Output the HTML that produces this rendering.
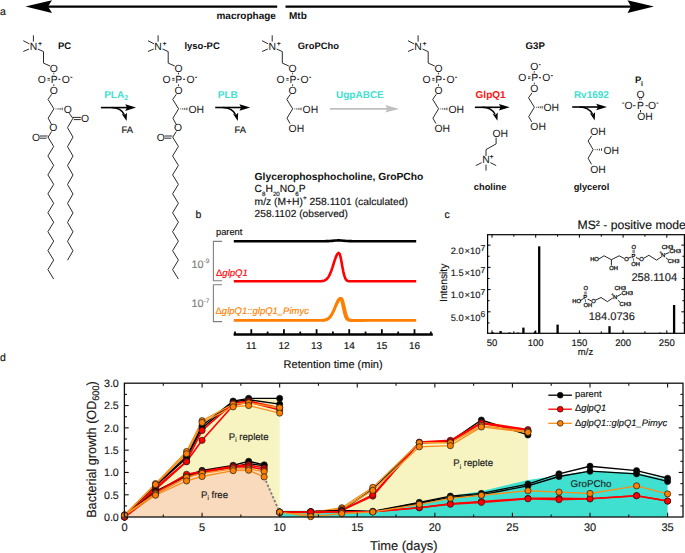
<!DOCTYPE html>
<html><head><meta charset="utf-8"><style>
html,body{margin:0;padding:0;background:#fff;}
body{width:685px;height:553px;overflow:hidden;}
svg{display:block;text-rendering:geometricPrecision;font-family:"Liberation Sans", sans-serif;}
</style></head><body>
<svg width="685" height="553" viewBox="0 0 685 553">
<rect width="685" height="553" fill="#fff"/>
<text x="0.00" y="15.00" font-size="10.5" font-weight="normal" font-style="normal" text-anchor="start" fill="#111"  stroke="#111" stroke-width="0.15">a</text>
<line x1="40.00" y1="6.60" x2="277.20" y2="6.60" stroke="#000" stroke-width="2.2" />
<line x1="285.50" y1="6.60" x2="634.00" y2="6.60" stroke="#000" stroke-width="2.2" />
<polygon points="25.40,6.60 52.00,0.20 48.00,6.60 52.00,13.00" fill="#000" stroke="none" stroke-width="0" />
<polygon points="654.00,6.60 627.50,0.20 631.00,6.60 627.50,13.00" fill="#000" stroke="none" stroke-width="0" />
<text x="275.90" y="19.00" font-size="10" font-weight="bold" font-style="normal" text-anchor="end" fill="#111" >macrophage</text>
<text x="289.00" y="19.00" font-size="10" font-weight="bold" font-style="normal" text-anchor="start" fill="#111" >Mtb</text>
<text x="33.40" y="50.23" font-size="10.4" font-weight="normal" font-style="normal" text-anchor="middle" fill="#1a1a1a" stroke="#111" stroke-width="0.05">N</text>
<text x="37.90" y="45.80" font-size="7" font-weight="bold" font-style="normal" text-anchor="start" fill="#1a1a1a" >+</text>
<line x1="33.40" y1="35.30" x2="33.40" y2="41.60" stroke="#2a2a2a" stroke-width="1.0" />
<line x1="23.30" y1="40.70" x2="29.40" y2="43.90" stroke="#2a2a2a" stroke-width="1.0" />
<line x1="23.30" y1="51.50" x2="29.00" y2="49.00" stroke="#2a2a2a" stroke-width="1.0" />
<polyline points="37.80,49.00 43.50,51.60 43.50,63.10 50.00,66.00" fill="none" stroke="#2a2a2a" stroke-width="1.0" stroke-linejoin="miter" />
<text x="53.80" y="72.03" font-size="10.4" font-weight="normal" font-style="normal" text-anchor="middle" fill="#1a1a1a" stroke="#111" stroke-width="0.05">O</text>
<line x1="53.80" y1="72.70" x2="53.80" y2="74.30" stroke="#2a2a2a" stroke-width="0.9" />
<text x="54.10" y="82.63" font-size="10.4" font-weight="normal" font-style="normal" text-anchor="middle" fill="#1a1a1a" stroke="#111" stroke-width="0.05">P</text>
<text x="41.80" y="82.63" font-size="10.4" font-weight="normal" font-style="normal" text-anchor="middle" fill="#1a1a1a" stroke="#111" stroke-width="0.05">O</text>
<line x1="47.50" y1="78.45" x2="49.90" y2="78.45" stroke="#2a2a2a" stroke-width="0.9" />
<line x1="47.50" y1="80.15" x2="49.90" y2="80.15" stroke="#2a2a2a" stroke-width="0.9" />
<text x="65.80" y="82.63" font-size="10.4" font-weight="normal" font-style="normal" text-anchor="middle" fill="#1a1a1a" stroke="#111" stroke-width="0.05">O</text>
<line x1="58.40" y1="79.30" x2="60.40" y2="79.30" stroke="#2a2a2a" stroke-width="1.1" />
<line x1="70.40" y1="77.30" x2="72.40" y2="77.30" stroke="#1a1a1a" stroke-width="0.9" />
<line x1="53.80" y1="84.30" x2="53.80" y2="86.00" stroke="#2a2a2a" stroke-width="0.9" />
<text x="53.80" y="93.63" font-size="10.4" font-weight="normal" font-style="normal" text-anchor="middle" fill="#1a1a1a" stroke="#111" stroke-width="0.05">O</text>
<polyline points="51.60,94.30 48.00,99.40 53.90,108.80" fill="none" stroke="#2a2a2a" stroke-width="1.0" stroke-linejoin="miter" />
<line x1="56.02" y1="108.46" x2="56.02" y2="109.34" stroke="#2a2a2a" stroke-width="0.9" />
<line x1="58.08" y1="108.19" x2="58.08" y2="109.61" stroke="#2a2a2a" stroke-width="0.9" />
<line x1="60.12" y1="107.91" x2="60.12" y2="109.89" stroke="#2a2a2a" stroke-width="0.9" />
<line x1="62.18" y1="107.64" x2="62.18" y2="110.16" stroke="#2a2a2a" stroke-width="0.9" />
<text x="67.70" y="112.73" font-size="10.4" font-weight="normal" font-style="normal" text-anchor="middle" fill="#1a1a1a" stroke="#111" stroke-width="0.05">O</text>
<line x1="69.20" y1="113.20" x2="72.80" y2="118.20" stroke="#2a2a2a" stroke-width="1.0" />
<line x1="72.80" y1="117.40" x2="80.80" y2="117.40" stroke="#2a2a2a" stroke-width="1.0" />
<line x1="73.80" y1="119.60" x2="80.80" y2="119.60" stroke="#2a2a2a" stroke-width="1.0" />
<text x="85.00" y="122.23" font-size="10.4" font-weight="normal" font-style="normal" text-anchor="middle" fill="#1a1a1a" stroke="#111" stroke-width="0.05">O</text>
<polyline points="73.00,118.20 67.50,127.67 73.00,137.14 67.50,146.61 73.00,156.08 67.50,165.55 73.00,175.02 67.50,184.49 73.00,193.96 67.50,203.43 73.00,212.90 67.50,222.37 73.00,231.84 67.50,241.31 73.00,250.78 67.50,260.25" fill="none" stroke="#2a2a2a" stroke-width="1.0" stroke-linejoin="miter" />
<polyline points="53.90,108.80 48.20,118.20 51.60,124.60" fill="none" stroke="#2a2a2a" stroke-width="1.0" stroke-linejoin="miter" />
<text x="53.40" y="131.33" font-size="10.4" font-weight="normal" font-style="normal" text-anchor="middle" fill="#1a1a1a" stroke="#111" stroke-width="0.05">O</text>
<line x1="51.60" y1="131.50" x2="48.20" y2="137.00" stroke="#2a2a2a" stroke-width="1.0" />
<line x1="47.60" y1="136.00" x2="40.00" y2="136.00" stroke="#2a2a2a" stroke-width="1.0" />
<line x1="46.60" y1="138.20" x2="40.00" y2="138.20" stroke="#2a2a2a" stroke-width="1.0" />
<text x="36.00" y="140.83" font-size="10.4" font-weight="normal" font-style="normal" text-anchor="middle" fill="#1a1a1a" stroke="#111" stroke-width="0.05">O</text>
<polyline points="47.90,137.00 53.70,146.47 47.90,155.94 53.70,165.41 47.90,174.88 53.70,184.35 47.90,193.82 53.70,203.29 47.90,212.76 53.70,222.23 47.90,231.70 53.70,241.17 47.90,250.64 53.70,260.11 47.90,269.58 53.70,279.05" fill="none" stroke="#2a2a2a" stroke-width="1.0" stroke-linejoin="miter" />
<text x="57.90" y="48.90" font-size="9.5" font-weight="bold" font-style="normal" text-anchor="start" fill="#111" >PC</text>
<text x="158.10" y="50.23" font-size="10.4" font-weight="normal" font-style="normal" text-anchor="middle" fill="#1a1a1a" stroke="#111" stroke-width="0.05">N</text>
<text x="162.60" y="45.80" font-size="7" font-weight="bold" font-style="normal" text-anchor="start" fill="#1a1a1a" >+</text>
<line x1="158.10" y1="35.30" x2="158.10" y2="41.60" stroke="#2a2a2a" stroke-width="1.0" />
<line x1="148.00" y1="40.70" x2="154.10" y2="43.90" stroke="#2a2a2a" stroke-width="1.0" />
<line x1="148.00" y1="51.50" x2="153.70" y2="49.00" stroke="#2a2a2a" stroke-width="1.0" />
<polyline points="162.50,49.00 168.20,51.60 168.20,63.10 174.70,66.00" fill="none" stroke="#2a2a2a" stroke-width="1.0" stroke-linejoin="miter" />
<text x="178.50" y="72.03" font-size="10.4" font-weight="normal" font-style="normal" text-anchor="middle" fill="#1a1a1a" stroke="#111" stroke-width="0.05">O</text>
<line x1="178.50" y1="72.70" x2="178.50" y2="74.30" stroke="#2a2a2a" stroke-width="0.9" />
<text x="178.80" y="82.63" font-size="10.4" font-weight="normal" font-style="normal" text-anchor="middle" fill="#1a1a1a" stroke="#111" stroke-width="0.05">P</text>
<text x="166.50" y="82.63" font-size="10.4" font-weight="normal" font-style="normal" text-anchor="middle" fill="#1a1a1a" stroke="#111" stroke-width="0.05">O</text>
<line x1="172.20" y1="78.45" x2="174.60" y2="78.45" stroke="#2a2a2a" stroke-width="0.9" />
<line x1="172.20" y1="80.15" x2="174.60" y2="80.15" stroke="#2a2a2a" stroke-width="0.9" />
<text x="190.50" y="82.63" font-size="10.4" font-weight="normal" font-style="normal" text-anchor="middle" fill="#1a1a1a" stroke="#111" stroke-width="0.05">O</text>
<line x1="183.10" y1="79.30" x2="185.10" y2="79.30" stroke="#2a2a2a" stroke-width="1.1" />
<line x1="195.10" y1="77.30" x2="197.10" y2="77.30" stroke="#1a1a1a" stroke-width="0.9" />
<line x1="178.50" y1="84.30" x2="178.50" y2="86.00" stroke="#2a2a2a" stroke-width="0.9" />
<text x="178.50" y="93.63" font-size="10.4" font-weight="normal" font-style="normal" text-anchor="middle" fill="#1a1a1a" stroke="#111" stroke-width="0.05">O</text>
<polyline points="176.30,94.30 172.70,99.40 178.60,108.80" fill="none" stroke="#2a2a2a" stroke-width="1.0" stroke-linejoin="miter" />
<line x1="180.72" y1="108.46" x2="180.72" y2="109.34" stroke="#2a2a2a" stroke-width="0.9" />
<line x1="182.78" y1="108.19" x2="182.78" y2="109.61" stroke="#2a2a2a" stroke-width="0.9" />
<line x1="184.82" y1="107.91" x2="184.82" y2="109.89" stroke="#2a2a2a" stroke-width="0.9" />
<line x1="186.88" y1="107.64" x2="186.88" y2="110.16" stroke="#2a2a2a" stroke-width="0.9" />
<text x="188.50" y="112.63" font-size="10.4" font-weight="normal" font-style="normal" text-anchor="start" fill="#1a1a1a" stroke="#111" stroke-width="0.05">OH</text>
<polyline points="178.60,108.80 172.90,118.20 176.30,124.60" fill="none" stroke="#2a2a2a" stroke-width="1.0" stroke-linejoin="miter" />
<text x="178.10" y="131.33" font-size="10.4" font-weight="normal" font-style="normal" text-anchor="middle" fill="#1a1a1a" stroke="#111" stroke-width="0.05">O</text>
<line x1="176.30" y1="131.50" x2="172.90" y2="137.00" stroke="#2a2a2a" stroke-width="1.0" />
<line x1="172.30" y1="136.00" x2="164.70" y2="136.00" stroke="#2a2a2a" stroke-width="1.0" />
<line x1="171.30" y1="138.20" x2="164.70" y2="138.20" stroke="#2a2a2a" stroke-width="1.0" />
<text x="160.70" y="140.83" font-size="10.4" font-weight="normal" font-style="normal" text-anchor="middle" fill="#1a1a1a" stroke="#111" stroke-width="0.05">O</text>
<polyline points="172.60,137.00 178.40,146.47 172.60,155.94 178.40,165.41 172.60,174.88 178.40,184.35 172.60,193.82 178.40,203.29 172.60,212.76 178.40,222.23 172.60,231.70 178.40,241.17 172.60,250.64 178.40,260.11 172.60,269.58 178.40,279.05" fill="none" stroke="#2a2a2a" stroke-width="1.0" stroke-linejoin="miter" />
<text x="184.40" y="48.90" font-size="9.5" font-weight="bold" font-style="normal" text-anchor="start" fill="#111" >lyso-PC</text>
<text x="272.20" y="50.23" font-size="10.4" font-weight="normal" font-style="normal" text-anchor="middle" fill="#1a1a1a" stroke="#111" stroke-width="0.05">N</text>
<text x="276.70" y="45.80" font-size="7" font-weight="bold" font-style="normal" text-anchor="start" fill="#1a1a1a" >+</text>
<line x1="272.20" y1="35.30" x2="272.20" y2="41.60" stroke="#2a2a2a" stroke-width="1.0" />
<line x1="262.10" y1="40.70" x2="268.20" y2="43.90" stroke="#2a2a2a" stroke-width="1.0" />
<line x1="262.10" y1="51.50" x2="267.80" y2="49.00" stroke="#2a2a2a" stroke-width="1.0" />
<polyline points="276.60,49.00 282.30,51.60 282.30,63.10 288.80,66.00" fill="none" stroke="#2a2a2a" stroke-width="1.0" stroke-linejoin="miter" />
<text x="292.60" y="72.03" font-size="10.4" font-weight="normal" font-style="normal" text-anchor="middle" fill="#1a1a1a" stroke="#111" stroke-width="0.05">O</text>
<line x1="292.60" y1="72.70" x2="292.60" y2="74.30" stroke="#2a2a2a" stroke-width="0.9" />
<text x="292.90" y="82.63" font-size="10.4" font-weight="normal" font-style="normal" text-anchor="middle" fill="#1a1a1a" stroke="#111" stroke-width="0.05">P</text>
<text x="280.60" y="82.63" font-size="10.4" font-weight="normal" font-style="normal" text-anchor="middle" fill="#1a1a1a" stroke="#111" stroke-width="0.05">O</text>
<line x1="286.30" y1="78.45" x2="288.70" y2="78.45" stroke="#2a2a2a" stroke-width="0.9" />
<line x1="286.30" y1="80.15" x2="288.70" y2="80.15" stroke="#2a2a2a" stroke-width="0.9" />
<text x="304.60" y="82.63" font-size="10.4" font-weight="normal" font-style="normal" text-anchor="middle" fill="#1a1a1a" stroke="#111" stroke-width="0.05">O</text>
<line x1="297.20" y1="79.30" x2="299.20" y2="79.30" stroke="#2a2a2a" stroke-width="1.1" />
<line x1="309.20" y1="77.30" x2="311.20" y2="77.30" stroke="#1a1a1a" stroke-width="0.9" />
<line x1="292.60" y1="84.30" x2="292.60" y2="86.00" stroke="#2a2a2a" stroke-width="0.9" />
<text x="292.60" y="93.63" font-size="10.4" font-weight="normal" font-style="normal" text-anchor="middle" fill="#1a1a1a" stroke="#111" stroke-width="0.05">O</text>
<polyline points="290.40,94.30 286.80,99.40 292.70,108.80" fill="none" stroke="#2a2a2a" stroke-width="1.0" stroke-linejoin="miter" />
<line x1="294.82" y1="108.46" x2="294.82" y2="109.34" stroke="#2a2a2a" stroke-width="0.9" />
<line x1="296.88" y1="108.19" x2="296.88" y2="109.61" stroke="#2a2a2a" stroke-width="0.9" />
<line x1="298.93" y1="107.91" x2="298.93" y2="109.89" stroke="#2a2a2a" stroke-width="0.9" />
<line x1="300.98" y1="107.64" x2="300.98" y2="110.16" stroke="#2a2a2a" stroke-width="0.9" />
<text x="302.60" y="112.63" font-size="10.4" font-weight="normal" font-style="normal" text-anchor="start" fill="#1a1a1a" stroke="#111" stroke-width="0.05">OH</text>
<polyline points="292.70,108.80 287.00,118.20 290.00,123.50" fill="none" stroke="#2a2a2a" stroke-width="1.0" stroke-linejoin="miter" />
<text x="288.60" y="131.63" font-size="10.4" font-weight="normal" font-style="normal" text-anchor="start" fill="#1a1a1a" stroke="#111" stroke-width="0.05">OH</text>
<text x="297.80" y="48.90" font-size="9.4" font-weight="bold" font-style="normal" text-anchor="start" fill="#111" >GroPCho</text>
<text x="418.10" y="50.23" font-size="10.4" font-weight="normal" font-style="normal" text-anchor="middle" fill="#1a1a1a" stroke="#111" stroke-width="0.05">N</text>
<text x="422.60" y="45.80" font-size="7" font-weight="bold" font-style="normal" text-anchor="start" fill="#1a1a1a" >+</text>
<line x1="418.10" y1="35.30" x2="418.10" y2="41.60" stroke="#2a2a2a" stroke-width="1.0" />
<line x1="408.00" y1="40.70" x2="414.10" y2="43.90" stroke="#2a2a2a" stroke-width="1.0" />
<line x1="408.00" y1="51.50" x2="413.70" y2="49.00" stroke="#2a2a2a" stroke-width="1.0" />
<polyline points="422.50,49.00 428.20,51.60 428.20,63.10 434.70,66.00" fill="none" stroke="#2a2a2a" stroke-width="1.0" stroke-linejoin="miter" />
<text x="438.50" y="72.03" font-size="10.4" font-weight="normal" font-style="normal" text-anchor="middle" fill="#1a1a1a" stroke="#111" stroke-width="0.05">O</text>
<line x1="438.50" y1="72.70" x2="438.50" y2="74.30" stroke="#2a2a2a" stroke-width="0.9" />
<text x="438.80" y="82.63" font-size="10.4" font-weight="normal" font-style="normal" text-anchor="middle" fill="#1a1a1a" stroke="#111" stroke-width="0.05">P</text>
<text x="426.50" y="82.63" font-size="10.4" font-weight="normal" font-style="normal" text-anchor="middle" fill="#1a1a1a" stroke="#111" stroke-width="0.05">O</text>
<line x1="432.20" y1="78.45" x2="434.60" y2="78.45" stroke="#2a2a2a" stroke-width="0.9" />
<line x1="432.20" y1="80.15" x2="434.60" y2="80.15" stroke="#2a2a2a" stroke-width="0.9" />
<text x="450.50" y="82.63" font-size="10.4" font-weight="normal" font-style="normal" text-anchor="middle" fill="#1a1a1a" stroke="#111" stroke-width="0.05">O</text>
<line x1="443.10" y1="79.30" x2="445.10" y2="79.30" stroke="#2a2a2a" stroke-width="1.1" />
<line x1="455.10" y1="77.30" x2="457.10" y2="77.30" stroke="#1a1a1a" stroke-width="0.9" />
<line x1="438.50" y1="84.30" x2="438.50" y2="86.00" stroke="#2a2a2a" stroke-width="0.9" />
<text x="438.50" y="93.63" font-size="10.4" font-weight="normal" font-style="normal" text-anchor="middle" fill="#1a1a1a" stroke="#111" stroke-width="0.05">O</text>
<polyline points="436.30,94.30 432.70,99.40 438.60,108.80" fill="none" stroke="#2a2a2a" stroke-width="1.0" stroke-linejoin="miter" />
<line x1="440.72" y1="108.46" x2="440.72" y2="109.34" stroke="#2a2a2a" stroke-width="0.9" />
<line x1="442.77" y1="108.19" x2="442.77" y2="109.61" stroke="#2a2a2a" stroke-width="0.9" />
<line x1="444.82" y1="107.91" x2="444.82" y2="109.89" stroke="#2a2a2a" stroke-width="0.9" />
<line x1="446.88" y1="107.64" x2="446.88" y2="110.16" stroke="#2a2a2a" stroke-width="0.9" />
<text x="448.50" y="112.63" font-size="10.4" font-weight="normal" font-style="normal" text-anchor="start" fill="#1a1a1a" stroke="#111" stroke-width="0.05">OH</text>
<polyline points="438.60,108.80 432.90,118.20 435.90,123.50" fill="none" stroke="#2a2a2a" stroke-width="1.0" stroke-linejoin="miter" />
<text x="434.50" y="131.63" font-size="10.4" font-weight="normal" font-style="normal" text-anchor="start" fill="#1a1a1a" stroke="#111" stroke-width="0.05">OH</text>
<text x="534.30" y="70.43" font-size="10.4" font-weight="normal" font-style="normal" text-anchor="middle" fill="#1a1a1a" stroke="#111" stroke-width="0.05">O</text>
<line x1="538.90" y1="64.70" x2="540.70" y2="64.70" stroke="#1a1a1a" stroke-width="0.9" />
<line x1="534.30" y1="71.10" x2="534.30" y2="72.70" stroke="#2a2a2a" stroke-width="0.9" />
<text x="534.60" y="81.03" font-size="10.4" font-weight="normal" font-style="normal" text-anchor="middle" fill="#1a1a1a" stroke="#111" stroke-width="0.05">P</text>
<text x="522.30" y="81.03" font-size="10.4" font-weight="normal" font-style="normal" text-anchor="middle" fill="#1a1a1a" stroke="#111" stroke-width="0.05">O</text>
<line x1="528.00" y1="76.85" x2="530.40" y2="76.85" stroke="#2a2a2a" stroke-width="0.9" />
<line x1="528.00" y1="78.55" x2="530.40" y2="78.55" stroke="#2a2a2a" stroke-width="0.9" />
<text x="546.30" y="81.03" font-size="10.4" font-weight="normal" font-style="normal" text-anchor="middle" fill="#1a1a1a" stroke="#111" stroke-width="0.05">O</text>
<line x1="538.90" y1="77.70" x2="540.90" y2="77.70" stroke="#2a2a2a" stroke-width="1.1" />
<line x1="550.90" y1="75.70" x2="552.90" y2="75.70" stroke="#1a1a1a" stroke-width="0.9" />
<line x1="534.30" y1="82.70" x2="534.30" y2="84.40" stroke="#2a2a2a" stroke-width="0.9" />
<text x="534.30" y="92.03" font-size="10.4" font-weight="normal" font-style="normal" text-anchor="middle" fill="#1a1a1a" stroke="#111" stroke-width="0.05">O</text>
<polyline points="532.10,92.70 528.50,97.80 534.40,107.20" fill="none" stroke="#2a2a2a" stroke-width="1.0" stroke-linejoin="miter" />
<line x1="536.45" y1="106.86" x2="536.45" y2="107.74" stroke="#2a2a2a" stroke-width="0.9" />
<line x1="538.35" y1="106.59" x2="538.35" y2="108.01" stroke="#2a2a2a" stroke-width="0.9" />
<line x1="540.25" y1="106.31" x2="540.25" y2="108.29" stroke="#2a2a2a" stroke-width="0.9" />
<line x1="542.15" y1="106.04" x2="542.15" y2="108.56" stroke="#2a2a2a" stroke-width="0.9" />
<text x="543.50" y="111.03" font-size="10.4" font-weight="normal" font-style="normal" text-anchor="start" fill="#1a1a1a" stroke="#111" stroke-width="0.05">OH</text>
<polyline points="534.40,107.20 528.70,116.60 531.70,121.90" fill="none" stroke="#2a2a2a" stroke-width="1.0" stroke-linejoin="miter" />
<text x="530.30" y="130.03" font-size="10.4" font-weight="normal" font-style="normal" text-anchor="start" fill="#1a1a1a" stroke="#111" stroke-width="0.05">OH</text>
<text x="525.50" y="48.80" font-size="9.7" font-weight="bold" font-style="normal" text-anchor="start" fill="#111" >G3P</text>
<text x="635.10" y="83.00" font-size="9.4" font-weight="bold" font-style="normal" text-anchor="start" fill="#111" >P</text>
<text x="640.90" y="86.00" font-size="7" font-weight="bold" font-style="normal" text-anchor="start" fill="#111" >i</text>
<text x="640.50" y="97.63" font-size="10.4" font-weight="normal" font-style="normal" text-anchor="middle" fill="#1a1a1a" stroke="#111" stroke-width="0.05">O</text>
<line x1="639.70" y1="98.30" x2="639.70" y2="100.00" stroke="#2a2a2a" stroke-width="0.7" />
<line x1="641.30" y1="98.30" x2="641.30" y2="100.00" stroke="#2a2a2a" stroke-width="0.7" />
<text x="640.50" y="109.03" font-size="10.4" font-weight="normal" font-style="normal" text-anchor="middle" fill="#1a1a1a" stroke="#111" stroke-width="0.05">P</text>
<text x="628.50" y="109.03" font-size="10.4" font-weight="normal" font-style="normal" text-anchor="middle" fill="#1a1a1a" stroke="#111" stroke-width="0.05">O</text>
<text x="622.00" y="104.60" font-size="7" font-weight="normal" font-style="normal" text-anchor="start" fill="#1a1a1a"  stroke="#1a1a1a" stroke-width="0.15">-</text>
<line x1="633.00" y1="105.70" x2="635.60" y2="105.70" stroke="#2a2a2a" stroke-width="0.9" />
<text x="652.00" y="109.03" font-size="10.4" font-weight="normal" font-style="normal" text-anchor="middle" fill="#1a1a1a" stroke="#111" stroke-width="0.05">O</text>
<line x1="645.40" y1="105.70" x2="647.90" y2="105.70" stroke="#2a2a2a" stroke-width="0.9" />
<text x="656.20" y="104.60" font-size="7" font-weight="normal" font-style="normal" text-anchor="start" fill="#1a1a1a"  stroke="#1a1a1a" stroke-width="0.15">-</text>
<line x1="640.50" y1="110.00" x2="640.50" y2="112.30" stroke="#2a2a2a" stroke-width="1.0" />
<text x="637.20" y="120.43" font-size="10.4" font-weight="normal" font-style="normal" text-anchor="start" fill="#1a1a1a" stroke="#111" stroke-width="0.05">OH</text>
<line x1="100.90" y1="107.60" x2="128.00" y2="107.60" stroke="#000" stroke-width="1.6" />
<polygon points="136.00,107.60 125.20,104.30 127.00,107.60 125.20,110.90" fill="#000" stroke="none" stroke-width="0" />
<path d="M111.60,107.60 C117.10,107.60 121.60,109.20 124.40,114.80" fill="none" stroke="#000" stroke-width="1.5"/>
<polygon points="126.60,121.00 121.60,113.70 124.50,115.20 127.00,112.80" fill="#000" stroke="none" stroke-width="0" />
<text x="104.20" y="97.60" font-size="10" font-weight="bold" font-style="normal" text-anchor="start" fill="#40E0D0" >PLA</text>
<text x="124.20" y="100.20" font-size="7" font-weight="bold" font-style="normal" text-anchor="start" fill="#40E0D0" >2</text>
<text x="121.50" y="133.10" font-size="9.4" font-weight="normal" font-style="normal" text-anchor="start" fill="#111"  stroke="#111" stroke-width="0.15">FA</text>
<line x1="215.20" y1="107.50" x2="242.20" y2="107.50" stroke="#000" stroke-width="1.6" />
<polygon points="250.20,107.50 239.40,104.20 241.20,107.50 239.40,110.80" fill="#000" stroke="none" stroke-width="0" />
<path d="M222.80,107.50 C228.30,107.50 232.80,109.10 235.60,114.70" fill="none" stroke="#000" stroke-width="1.5"/>
<polygon points="237.80,120.90 232.80,113.60 235.70,115.10 238.20,112.70" fill="#000" stroke="none" stroke-width="0" />
<text x="217.80" y="97.60" font-size="10" font-weight="bold" font-style="normal" text-anchor="start" fill="#40E0D0" >PLB</text>
<text x="234.60" y="133.10" font-size="9.4" font-weight="normal" font-style="normal" text-anchor="start" fill="#111"  stroke="#111" stroke-width="0.15">FA</text>
<line x1="329.90" y1="108.90" x2="388.00" y2="108.90" stroke="#bfbfbf" stroke-width="1.9" />
<polygon points="399.20,108.90 385.20,105.00 387.60,108.90 385.20,112.60" fill="#bfbfbf" stroke="none" stroke-width="0" />
<text x="336.00" y="97.70" font-size="10" font-weight="bold" font-style="normal" text-anchor="start" fill="#40E0D0" >UgpABCE</text>
<line x1="474.90" y1="107.30" x2="501.70" y2="107.30" stroke="#000" stroke-width="1.6" />
<polygon points="509.70,107.30 498.90,104.00 500.70,107.30 498.90,110.60" fill="#000" stroke="none" stroke-width="0" />
<path d="M482.40,107.30 C487.90,107.30 492.40,108.90 495.20,114.50" fill="none" stroke="#000" stroke-width="1.5"/>
<polygon points="497.40,120.70 492.40,113.40 495.30,114.90 497.80,112.50" fill="#000" stroke="none" stroke-width="0" />
<text x="475.60" y="97.60" font-size="10" font-weight="bold" font-style="normal" text-anchor="start" fill="#FF1010" >GlpQ1</text>
<line x1="572.20" y1="107.00" x2="599.00" y2="107.00" stroke="#000" stroke-width="1.6" />
<polygon points="607.00,107.00 596.20,103.70 598.00,107.00 596.20,110.30" fill="#000" stroke="none" stroke-width="0" />
<path d="M579.70,107.00 C585.20,107.00 589.70,108.60 592.50,114.20" fill="none" stroke="#000" stroke-width="1.5"/>
<polygon points="594.70,120.40 589.70,113.10 592.60,114.60 595.10,112.20" fill="#000" stroke="none" stroke-width="0" />
<text x="573.90" y="97.60" font-size="10" font-weight="bold" font-style="normal" text-anchor="start" fill="#40E0D0" >Rv1692</text>
<text x="492.50" y="136.73" font-size="10.4" font-weight="normal" font-style="normal" text-anchor="start" fill="#1a1a1a" stroke="#111" stroke-width="0.05">OH</text>
<polyline points="496.10,137.60 496.10,143.90 486.00,149.60 486.00,156.00" fill="none" stroke="#2a2a2a" stroke-width="1.0" stroke-linejoin="miter" />
<text x="486.00" y="163.43" font-size="10.4" font-weight="normal" font-style="normal" text-anchor="middle" fill="#1a1a1a" stroke="#111" stroke-width="0.05">N</text>
<text x="489.50" y="159.20" font-size="7" font-weight="bold" font-style="normal" text-anchor="start" fill="#1a1a1a" >+</text>
<line x1="475.80" y1="165.60" x2="481.60" y2="162.70" stroke="#2a2a2a" stroke-width="1.0" />
<line x1="490.40" y1="162.70" x2="496.20" y2="165.60" stroke="#2a2a2a" stroke-width="1.0" />
<line x1="486.00" y1="164.60" x2="486.00" y2="170.60" stroke="#2a2a2a" stroke-width="1.0" />
<text x="473.80" y="190.40" font-size="9.3" font-weight="bold" font-style="normal" text-anchor="start" fill="#111" >choline</text>
<text x="590.20" y="135.33" font-size="10.4" font-weight="normal" font-style="normal" text-anchor="start" fill="#1a1a1a" stroke="#111" stroke-width="0.05">OH</text>
<polyline points="591.70,135.80 588.10,141.00 593.10,149.60" fill="none" stroke="#2a2a2a" stroke-width="1.0" stroke-linejoin="miter" />
<line x1="595.08" y1="149.16" x2="595.08" y2="150.04" stroke="#2a2a2a" stroke-width="0.9" />
<line x1="597.23" y1="148.89" x2="597.23" y2="150.31" stroke="#2a2a2a" stroke-width="0.9" />
<line x1="599.38" y1="148.61" x2="599.38" y2="150.59" stroke="#2a2a2a" stroke-width="0.9" />
<line x1="601.52" y1="148.34" x2="601.52" y2="150.86" stroke="#2a2a2a" stroke-width="0.9" />
<text x="603.40" y="153.53" font-size="10.4" font-weight="normal" font-style="normal" text-anchor="start" fill="#1a1a1a" stroke="#111" stroke-width="0.05">OH</text>
<polyline points="593.10,149.60 588.10,158.30 591.50,164.30" fill="none" stroke="#2a2a2a" stroke-width="1.0" stroke-linejoin="miter" />
<text x="590.20" y="172.53" font-size="10.4" font-weight="normal" font-style="normal" text-anchor="start" fill="#1a1a1a" stroke="#111" stroke-width="0.05">OH</text>
<text x="573.70" y="190.30" font-size="9.3" font-weight="bold" font-style="normal" text-anchor="start" fill="#111" >glycerol</text>
<text x="195.60" y="218.00" font-size="10.5" font-weight="normal" font-style="normal" text-anchor="start" fill="#111"  stroke="#111" stroke-width="0.15">b</text>
<text x="254.60" y="180.10" font-size="10.3" font-weight="bold" font-style="normal" text-anchor="start" fill="#111" >Glycerophosphocholine, GroPCho</text>
<text x="254.6" y="192.0" font-size="10.3" fill="#111" stroke="#111" stroke-width="0.15">C<tspan font-size="6.2" dy="3.6">8</tspan><tspan dy="-3.6">H</tspan><tspan font-size="6.2" dy="3.6">20</tspan><tspan dy="-3.6">NO</tspan><tspan font-size="6.2" dy="3.6">6</tspan><tspan dy="-3.6">P</tspan></text>
<text x="254.6" y="205.1" font-size="10.3" fill="#111" stroke="#111" stroke-width="0.15">m/z (M+H)<tspan font-size="6.5" dy="-4.8">+</tspan><tspan dy="4.8"> 258.1101 (calculated)</tspan></text>
<text x="254.60" y="217.30" font-size="10.2" font-weight="normal" font-style="normal" text-anchor="start" fill="#111"  stroke="#111" stroke-width="0.15">258.1102 (observed)</text>
<text x="216.00" y="234.70" font-size="9.3" font-weight="normal" font-style="normal" text-anchor="start" fill="#111"  stroke="#111" stroke-width="0.15">parent</text>
<polyline points="222.10,241.40 213.40,241.40 213.40,280.80 222.10,280.80" fill="none" stroke="#808080" stroke-width="1.1" stroke-linejoin="miter" />
<polyline points="222.10,284.70 213.40,284.70 213.40,321.60 222.10,321.60" fill="none" stroke="#808080" stroke-width="1.1" stroke-linejoin="miter" />
<text x="191.6" y="267.7" font-size="10.8" fill="#808080" stroke="#808080" stroke-width="0.15">10<tspan font-size="6.5" dy="-4.3">-9</tspan></text>
<text x="191.6" y="307.1" font-size="10.8" fill="#808080" stroke="#808080" stroke-width="0.15">10<tspan font-size="6.5" dy="-4.3">-7</tspan></text>
<text x="216.0" y="276.4" font-size="9.5" fill="#ff0000" stroke="#ff0000" stroke-width="0.15">Δ<tspan font-style="italic">glpQ1</tspan></text>
<text x="215.5" y="313.6" font-size="9.5" fill="#ff7f00" stroke="#ff7f00" stroke-width="0.15">Δ<tspan font-style="italic">glpQ1::glpQ1_Pimyc</tspan></text>
<path d="M233.80,241.20 L234.71,241.20 L235.62,241.20 L236.54,241.20 L237.45,241.20 L238.36,241.20 L239.27,241.20 L240.18,241.20 L241.10,241.20 L242.01,241.20 L242.92,241.20 L243.83,241.20 L244.74,241.20 L245.66,241.20 L246.57,241.20 L247.48,241.20 L248.39,241.20 L249.30,241.20 L250.22,241.20 L251.13,241.20 L252.04,241.20 L252.95,241.20 L253.86,241.20 L254.78,241.20 L255.69,241.20 L256.60,241.20 L257.51,241.20 L258.42,241.20 L259.34,241.20 L260.25,241.20 L261.16,241.20 L262.07,241.20 L262.98,241.20 L263.90,241.20 L264.81,241.20 L265.72,241.20 L266.63,241.20 L267.54,241.20 L268.46,241.20 L269.37,241.20 L270.28,241.20 L271.19,241.20 L272.10,241.20 L273.02,241.20 L273.93,241.20 L274.84,241.20 L275.75,241.20 L276.66,241.20 L277.58,241.20 L278.49,241.20 L279.40,241.20 L280.31,241.20 L281.22,241.20 L282.14,241.20 L283.05,241.20 L283.96,241.20 L284.87,241.20 L285.78,241.20 L286.70,241.20 L287.61,241.20 L288.52,241.20 L289.43,241.20 L290.34,241.20 L291.26,241.20 L292.17,241.20 L293.08,241.20 L293.99,241.20 L294.90,241.20 L295.82,241.20 L296.73,241.20 L297.64,241.20 L298.55,241.20 L299.46,241.20 L300.38,241.20 L301.29,241.20 L302.20,241.20 L303.11,241.20 L304.02,241.20 L304.94,241.20 L305.85,241.20 L306.76,241.20 L307.67,241.20 L308.58,241.20 L309.50,241.20 L310.41,241.20 L311.32,241.20 L312.23,241.20 L313.14,241.20 L314.06,241.20 L314.97,241.20 L315.88,241.20 L316.79,241.20 L317.70,241.20 L318.62,241.20 L319.53,241.20 L320.44,241.20 L321.35,241.20 L322.26,241.20 L323.18,241.19 L324.09,241.19 L325.00,241.18 L325.91,241.17 L326.82,241.15 L327.74,241.12 L328.65,241.09 L329.56,241.04 L330.47,240.98 L331.38,240.91 L332.30,240.83 L333.21,240.74 L334.12,240.65 L335.03,240.57 L335.94,240.50 L336.86,240.44 L337.77,240.41 L338.68,240.40 L339.59,240.42 L340.50,240.46 L341.42,240.53 L342.33,240.60 L343.24,240.69 L344.15,240.78 L345.06,240.86 L345.98,240.94 L346.89,241.00 L347.80,241.06 L348.71,241.10 L349.62,241.13 L350.54,241.16 L351.45,241.17 L352.36,241.18 L353.27,241.19 L354.18,241.19 L355.10,241.20 L356.01,241.20 L356.92,241.20 L357.83,241.20 L358.74,241.20 L359.66,241.20 L360.57,241.20 L361.48,241.20 L362.39,241.20 L363.30,241.20 L364.22,241.20 L365.13,241.20 L366.04,241.20 L366.95,241.20 L367.86,241.20 L368.78,241.20 L369.69,241.20 L370.60,241.20 L371.51,241.20 L372.42,241.20 L373.34,241.20 L374.25,241.20 L375.16,241.20 L376.07,241.20 L376.98,241.20 L377.90,241.20 L378.81,241.20 L379.72,241.20 L380.63,241.20 L381.54,241.20 L382.46,241.20 L383.37,241.20 L384.28,241.20 L385.19,241.20 L386.10,241.20 L387.02,241.20 L387.93,241.20 L388.84,241.20 L389.75,241.20 L390.66,241.20 L391.58,241.20 L392.49,241.20 L393.40,241.20 L394.31,241.20 L395.22,241.20 L396.14,241.20 L397.05,241.20 L397.96,241.20 L398.87,241.20 L399.78,241.20 L400.70,241.20 L401.61,241.20 L402.52,241.20 L403.43,241.20 L404.34,241.20 L405.26,241.20 L406.17,241.20 L407.08,241.20 L407.99,241.20 L408.90,241.20 L409.82,241.20 L410.73,241.20 L411.64,241.20 L412.55,241.20 L413.46,241.20 L414.38,241.20 L415.29,241.20 L416.20,241.20" fill="none" stroke="#000" stroke-width="2.6" stroke-linejoin="round"/>
<path d="M233.80,281.30 L234.71,281.30 L235.62,281.30 L236.54,281.30 L237.45,281.30 L238.36,281.30 L239.27,281.30 L240.18,281.30 L241.10,281.30 L242.01,281.30 L242.92,281.30 L243.83,281.30 L244.74,281.30 L245.66,281.30 L246.57,281.30 L247.48,281.30 L248.39,281.30 L249.30,281.30 L250.22,281.30 L251.13,281.30 L252.04,281.30 L252.95,281.30 L253.86,281.30 L254.78,281.30 L255.69,281.30 L256.60,281.30 L257.51,281.30 L258.42,281.30 L259.34,281.30 L260.25,281.30 L261.16,281.30 L262.07,281.30 L262.98,281.30 L263.90,281.30 L264.81,281.30 L265.72,281.30 L266.63,281.30 L267.54,281.30 L268.46,281.30 L269.37,281.30 L270.28,281.30 L271.19,281.30 L272.10,281.30 L273.02,281.30 L273.93,281.30 L274.84,281.30 L275.75,281.30 L276.66,281.30 L277.58,281.30 L278.49,281.30 L279.40,281.30 L280.31,281.30 L281.22,281.30 L282.14,281.30 L283.05,281.30 L283.96,281.30 L284.87,281.30 L285.78,281.30 L286.70,281.30 L287.61,281.30 L288.52,281.30 L289.43,281.30 L290.34,281.30 L291.26,281.30 L292.17,281.30 L293.08,281.30 L293.99,281.30 L294.90,281.30 L295.82,281.30 L296.73,281.30 L297.64,281.30 L298.55,281.30 L299.46,281.30 L300.38,281.30 L301.29,281.30 L302.20,281.30 L303.11,281.30 L304.02,281.30 L304.94,281.30 L305.85,281.30 L306.76,281.30 L307.67,281.30 L308.58,281.30 L309.50,281.30 L310.41,281.30 L311.32,281.30 L312.23,281.30 L313.14,281.30 L314.06,281.30 L314.97,281.30 L315.88,281.30 L316.79,281.29 L317.70,281.29 L318.62,281.28 L319.53,281.25 L320.44,281.22 L321.35,281.16 L322.26,281.05 L323.18,280.89 L324.09,280.64 L325.00,280.27 L325.91,279.73 L326.82,278.97 L327.74,277.95 L328.65,276.62 L329.56,274.94 L330.47,272.90 L331.38,270.52 L332.30,267.86 L333.21,265.01 L334.12,262.11 L335.03,259.33 L335.94,256.85 L336.86,254.86 L337.77,253.52 L338.68,252.92 L339.59,253.65 L340.50,256.68 L341.42,261.32 L342.33,266.52 L343.24,271.33 L344.15,275.17 L345.06,277.86 L345.98,279.54 L346.89,280.48 L347.80,280.95 L348.71,281.16 L349.62,281.25 L350.54,281.28 L351.45,281.30 L352.36,281.30 L353.27,281.30 L354.18,281.30 L355.10,281.30 L356.01,281.30 L356.92,281.30 L357.83,281.30 L358.74,281.30 L359.66,281.30 L360.57,281.30 L361.48,281.30 L362.39,281.30 L363.30,281.30 L364.22,281.30 L365.13,281.30 L366.04,281.30 L366.95,281.30 L367.86,281.30 L368.78,281.30 L369.69,281.30 L370.60,281.30 L371.51,281.30 L372.42,281.30 L373.34,281.30 L374.25,281.30 L375.16,281.30 L376.07,281.30 L376.98,281.30 L377.90,281.30 L378.81,281.30 L379.72,281.30 L380.63,281.30 L381.54,281.30 L382.46,281.30 L383.37,281.30 L384.28,281.30 L385.19,281.30 L386.10,281.30 L387.02,281.30 L387.93,281.30 L388.84,281.30 L389.75,281.30 L390.66,281.30 L391.58,281.30 L392.49,281.30 L393.40,281.30 L394.31,281.30 L395.22,281.30 L396.14,281.30 L397.05,281.30 L397.96,281.30 L398.87,281.30 L399.78,281.30 L400.70,281.30 L401.61,281.30 L402.52,281.30 L403.43,281.30 L404.34,281.30 L405.26,281.30 L406.17,281.30 L407.08,281.30 L407.99,281.30 L408.90,281.30 L409.82,281.30 L410.73,281.30 L411.64,281.30 L412.55,281.30 L413.46,281.30 L414.38,281.30 L415.29,281.30 L416.20,281.30" fill="none" stroke="#ff0000" stroke-width="2.6" stroke-linejoin="round"/>
<path d="M233.80,320.40 L234.71,320.40 L235.62,320.40 L236.54,320.40 L237.45,320.40 L238.36,320.40 L239.27,320.40 L240.18,320.40 L241.10,320.40 L242.01,320.40 L242.92,320.40 L243.83,320.40 L244.74,320.40 L245.66,320.40 L246.57,320.40 L247.48,320.40 L248.39,320.40 L249.30,320.40 L250.22,320.40 L251.13,320.40 L252.04,320.40 L252.95,320.40 L253.86,320.40 L254.78,320.40 L255.69,320.40 L256.60,320.40 L257.51,320.40 L258.42,320.40 L259.34,320.40 L260.25,320.40 L261.16,320.40 L262.07,320.40 L262.98,320.40 L263.90,320.40 L264.81,320.40 L265.72,320.40 L266.63,320.40 L267.54,320.40 L268.46,320.40 L269.37,320.40 L270.28,320.40 L271.19,320.40 L272.10,320.40 L273.02,320.40 L273.93,320.40 L274.84,320.40 L275.75,320.40 L276.66,320.40 L277.58,320.40 L278.49,320.40 L279.40,320.40 L280.31,320.40 L281.22,320.40 L282.14,320.40 L283.05,320.40 L283.96,320.40 L284.87,320.40 L285.78,320.40 L286.70,320.40 L287.61,320.40 L288.52,320.40 L289.43,320.40 L290.34,320.40 L291.26,320.40 L292.17,320.40 L293.08,320.40 L293.99,320.40 L294.90,320.40 L295.82,320.40 L296.73,320.40 L297.64,320.40 L298.55,320.40 L299.46,320.40 L300.38,320.40 L301.29,320.40 L302.20,320.40 L303.11,320.40 L304.02,320.40 L304.94,320.40 L305.85,320.40 L306.76,320.40 L307.67,320.40 L308.58,320.40 L309.50,320.40 L310.41,320.40 L311.32,320.40 L312.23,320.40 L313.14,320.40 L314.06,320.40 L314.97,320.40 L315.88,320.40 L316.79,320.40 L317.70,320.40 L318.62,320.40 L319.53,320.39 L320.44,320.38 L321.35,320.37 L322.26,320.35 L323.18,320.30 L324.09,320.23 L325.00,320.11 L325.91,319.92 L326.82,319.63 L327.74,319.20 L328.65,318.60 L329.56,317.77 L330.47,316.68 L331.38,315.30 L332.30,313.61 L333.21,311.64 L334.12,309.44 L335.03,307.11 L335.94,304.77 L336.86,302.57 L337.77,300.68 L338.68,299.25 L339.59,298.40 L340.50,298.26 L341.42,300.02 L342.33,303.66 L343.24,308.13 L344.15,312.38 L345.06,315.72 L345.98,317.96 L346.89,319.27 L347.80,319.93 L348.71,320.23 L349.62,320.34 L350.54,320.38 L351.45,320.40 L352.36,320.40 L353.27,320.40 L354.18,320.40 L355.10,320.40 L356.01,320.40 L356.92,320.40 L357.83,320.40 L358.74,320.40 L359.66,320.40 L360.57,320.40 L361.48,320.40 L362.39,320.40 L363.30,320.40 L364.22,320.40 L365.13,320.40 L366.04,320.40 L366.95,320.40 L367.86,320.40 L368.78,320.40 L369.69,320.40 L370.60,320.40 L371.51,320.40 L372.42,320.40 L373.34,320.40 L374.25,320.40 L375.16,320.40 L376.07,320.40 L376.98,320.40 L377.90,320.40 L378.81,320.40 L379.72,320.40 L380.63,320.40 L381.54,320.40 L382.46,320.40 L383.37,320.40 L384.28,320.40 L385.19,320.40 L386.10,320.40 L387.02,320.40 L387.93,320.40 L388.84,320.40 L389.75,320.40 L390.66,320.40 L391.58,320.40 L392.49,320.40 L393.40,320.40 L394.31,320.40 L395.22,320.40 L396.14,320.40 L397.05,320.40 L397.96,320.40 L398.87,320.40 L399.78,320.40 L400.70,320.40 L401.61,320.40 L402.52,320.40 L403.43,320.40 L404.34,320.40 L405.26,320.40 L406.17,320.40 L407.08,320.40 L407.99,320.40 L408.90,320.40 L409.82,320.40 L410.73,320.40 L411.64,320.40 L412.55,320.40 L413.46,320.40 L414.38,320.40 L415.29,320.40 L416.20,320.40" fill="none" stroke="#ff7f00" stroke-width="2.6" stroke-linejoin="round"/>
<path d="M322.00,320.28 L322.21,320.26 L322.43,320.24 L322.64,320.23 L322.86,320.21 L323.07,320.18 L323.29,320.16 L323.50,320.13 L323.72,320.10 L323.94,320.07 L324.15,320.03 L324.37,319.99 L324.58,319.95 L324.80,319.90 L325.01,319.85 L325.23,319.79 L325.44,319.73 L325.65,319.67 L325.87,319.60 L326.08,319.52 L326.30,319.44 L326.51,319.35 L326.73,319.25 L326.94,319.15 L327.16,319.04 L327.38,318.92 L327.59,318.79 L327.81,318.65 L328.02,318.51 L328.24,318.35 L328.45,318.19 L328.67,318.01 L328.88,317.83 L329.10,317.63 L329.31,317.43 L329.52,317.21 L329.74,316.98 L329.95,316.73 L330.17,316.48 L330.38,316.21 L330.60,315.93 L330.81,315.64 L331.03,315.34 L331.25,315.02 L331.46,314.69 L331.68,314.35 L331.89,314.00 L332.11,313.63 L332.32,313.25 L332.54,312.87 L332.75,312.47 L332.96,312.06 L333.18,311.64 L333.39,311.21 L333.61,310.77 L333.82,310.32 L334.04,309.87 L334.25,309.41 L334.47,308.94 L334.69,308.47 L334.90,308.00 L335.12,307.53 L335.33,307.05 L335.55,306.57 L335.76,306.10 L335.98,305.63 L336.19,305.16 L336.40,304.70 L336.62,304.24 L336.83,303.80 L337.05,303.36 L337.26,302.93 L337.48,302.52 L337.69,302.12 L337.91,301.73 L338.12,301.36 L338.34,301.01 L338.56,300.68 L338.77,300.36 L338.99,300.07 L339.20,299.80 L339.42,299.55 L339.63,299.33 L339.85,299.13 L340.06,298.96 L340.27,298.82 L340.49,298.70 L340.70,298.61 L340.92,298.54 L341.13,298.51 L341.35,298.50 L341.56,298.59 L341.78,298.78 L342.00,299.08 L342.21,299.48 L342.43,299.99 L342.64,300.58 L342.86,301.25 L343.07,302.00 L343.29,302.81 L343.50,303.66 L343.71,304.56 L343.93,305.49 L344.14,306.43 L344.36,307.38 L344.57,308.33 L344.79,309.27 L345.00,310.18 L345.22,311.07 L345.44,311.93 L345.65,312.75 L345.87,313.52 L346.08,314.25 L346.30,314.92 L346.51,315.55 L346.73,316.13 L346.94,316.66 L347.15,317.14 L347.37,317.57 L347.58,317.96 L347.80,318.31 L348.01,318.61 L348.23,318.88 L348.44,319.12 L348.66,319.32 L348.88,319.50 L349.09,319.65 L349.31,319.78 L349.52,319.89 L349.74,319.98 L349.95,320.06 L350.17,320.12 L350.38,320.18 L350.60,320.22 L350.81,320.26 L351.02,320.29 L351.24,320.31 L351.45,320.33 L351.67,320.34 L351.88,320.36 L352.10,320.37 L352.31,320.37 L352.53,320.38 L352.75,320.38 L352.96,320.39 L353.18,320.39 L353.39,320.39 L353.61,320.40 L353.82,320.40 L354.03,320.40 L354.25,320.40 L354.47,320.40 L354.68,320.40 L354.89,320.40 L355.11,320.40 L355.32,320.40 L355.54,320.40 L355.75,320.40 L355.97,320.40 L356.19,320.40 L356.40,320.40 L356.62,320.40 L356.83,320.40 L357.05,320.40 L357.26,320.40 L357.48,320.40 L357.69,320.40 L357.90,320.40 L358.12,320.40 L358.33,320.40 L358.55,320.40 L358.76,320.40 L358.98,320.40 L359.19,320.40 L359.41,320.40 L359.62,320.40 L359.84,320.40 L360.06,320.40 L360.27,320.40 L360.49,320.40 L360.70,320.40 L360.92,320.40 L361.13,320.40 L361.35,320.40 L361.56,320.40 L361.77,320.40 L361.99,320.40 L362.20,320.40 L362.42,320.40 L362.63,320.40 L362.85,320.40 L363.06,320.40 L363.28,320.40 L363.50,320.40 L363.71,320.40 L363.93,320.40 L364.14,320.40 L364.36,320.40 L364.57,320.40 L364.78,320.40 L365.00,320.40" fill="none" stroke="#ff7f00" stroke-width="2.8" stroke-linejoin="round"/>
<line x1="233.60" y1="334.50" x2="432.80" y2="334.50" stroke="#000" stroke-width="2.3" />
<line x1="234.98" y1="334.50" x2="234.98" y2="331.60" stroke="#000" stroke-width="1.8" />
<line x1="251.30" y1="334.50" x2="251.30" y2="329.20" stroke="#000" stroke-width="1.8" />
<line x1="267.62" y1="334.50" x2="267.62" y2="331.60" stroke="#000" stroke-width="1.8" />
<line x1="283.94" y1="334.50" x2="283.94" y2="329.20" stroke="#000" stroke-width="1.8" />
<line x1="300.26" y1="334.50" x2="300.26" y2="331.60" stroke="#000" stroke-width="1.8" />
<line x1="316.58" y1="334.50" x2="316.58" y2="329.20" stroke="#000" stroke-width="1.8" />
<line x1="332.90" y1="334.50" x2="332.90" y2="331.60" stroke="#000" stroke-width="1.8" />
<line x1="349.22" y1="334.50" x2="349.22" y2="329.20" stroke="#000" stroke-width="1.8" />
<line x1="365.54" y1="334.50" x2="365.54" y2="331.60" stroke="#000" stroke-width="1.8" />
<line x1="381.86" y1="334.50" x2="381.86" y2="329.20" stroke="#000" stroke-width="1.8" />
<line x1="398.18" y1="334.50" x2="398.18" y2="331.60" stroke="#000" stroke-width="1.8" />
<line x1="414.50" y1="334.50" x2="414.50" y2="329.20" stroke="#000" stroke-width="1.8" />
<line x1="430.82" y1="334.50" x2="430.82" y2="331.60" stroke="#000" stroke-width="1.8" />
<text x="251.30" y="349.30" font-size="10" font-weight="normal" font-style="normal" text-anchor="middle" fill="#111"  stroke="#111" stroke-width="0.15">11</text>
<text x="283.94" y="349.30" font-size="10" font-weight="normal" font-style="normal" text-anchor="middle" fill="#111"  stroke="#111" stroke-width="0.15">12</text>
<text x="316.58" y="349.30" font-size="10" font-weight="normal" font-style="normal" text-anchor="middle" fill="#111"  stroke="#111" stroke-width="0.15">13</text>
<text x="349.22" y="349.30" font-size="10" font-weight="normal" font-style="normal" text-anchor="middle" fill="#111"  stroke="#111" stroke-width="0.15">14</text>
<text x="381.86" y="349.30" font-size="10" font-weight="normal" font-style="normal" text-anchor="middle" fill="#111"  stroke="#111" stroke-width="0.15">15</text>
<text x="414.50" y="349.30" font-size="10" font-weight="normal" font-style="normal" text-anchor="middle" fill="#111"  stroke="#111" stroke-width="0.15">16</text>
<text x="283.60" y="368.30" font-size="11" font-weight="normal" font-style="normal" text-anchor="start" fill="#111"  stroke="#111" stroke-width="0.15">Retention time (min)</text>
<text x="444.40" y="218.10" font-size="10.5" font-weight="normal" font-style="normal" text-anchor="start" fill="#111"  stroke="#111" stroke-width="0.15">c</text>
<text x="577.50" y="228.60" font-size="12.2" font-weight="normal" font-style="normal" text-anchor="start" fill="#111"  stroke="#111" stroke-width="0.15">MS² - positive mode</text>
<rect x="487.6" y="234.7" width="196.79999999999995" height="98.60000000000002" fill="none" stroke="#000" stroke-width="1.2"/>
<line x1="487.60" y1="322.94" x2="489.60" y2="322.94" stroke="#000" stroke-width="1.0" />
<line x1="684.40" y1="322.94" x2="682.40" y2="322.94" stroke="#000" stroke-width="1.0" />
<line x1="487.60" y1="311.82" x2="490.60" y2="311.82" stroke="#000" stroke-width="1.0" />
<line x1="684.40" y1="311.82" x2="681.40" y2="311.82" stroke="#000" stroke-width="1.0" />
<line x1="487.60" y1="300.71" x2="489.60" y2="300.71" stroke="#000" stroke-width="1.0" />
<line x1="684.40" y1="300.71" x2="682.40" y2="300.71" stroke="#000" stroke-width="1.0" />
<line x1="487.60" y1="289.59" x2="490.60" y2="289.59" stroke="#000" stroke-width="1.0" />
<line x1="684.40" y1="289.59" x2="681.40" y2="289.59" stroke="#000" stroke-width="1.0" />
<line x1="487.60" y1="278.48" x2="489.60" y2="278.48" stroke="#000" stroke-width="1.0" />
<line x1="684.40" y1="278.48" x2="682.40" y2="278.48" stroke="#000" stroke-width="1.0" />
<line x1="487.60" y1="267.36" x2="490.60" y2="267.36" stroke="#000" stroke-width="1.0" />
<line x1="684.40" y1="267.36" x2="681.40" y2="267.36" stroke="#000" stroke-width="1.0" />
<line x1="487.60" y1="256.25" x2="489.60" y2="256.25" stroke="#000" stroke-width="1.0" />
<line x1="684.40" y1="256.25" x2="682.40" y2="256.25" stroke="#000" stroke-width="1.0" />
<line x1="487.60" y1="245.13" x2="490.60" y2="245.13" stroke="#000" stroke-width="1.0" />
<line x1="684.40" y1="245.13" x2="681.40" y2="245.13" stroke="#000" stroke-width="1.0" />
<line x1="492.00" y1="333.30" x2="492.00" y2="330.30" stroke="#000" stroke-width="1.0" />
<line x1="492.00" y1="234.70" x2="492.00" y2="237.70" stroke="#000" stroke-width="1.0" />
<line x1="513.85" y1="333.30" x2="513.85" y2="331.30" stroke="#000" stroke-width="1.0" />
<line x1="513.85" y1="234.70" x2="513.85" y2="236.70" stroke="#000" stroke-width="1.0" />
<line x1="535.70" y1="333.30" x2="535.70" y2="330.30" stroke="#000" stroke-width="1.0" />
<line x1="535.70" y1="234.70" x2="535.70" y2="237.70" stroke="#000" stroke-width="1.0" />
<line x1="557.55" y1="333.30" x2="557.55" y2="331.30" stroke="#000" stroke-width="1.0" />
<line x1="557.55" y1="234.70" x2="557.55" y2="236.70" stroke="#000" stroke-width="1.0" />
<line x1="579.40" y1="333.30" x2="579.40" y2="330.30" stroke="#000" stroke-width="1.0" />
<line x1="579.40" y1="234.70" x2="579.40" y2="237.70" stroke="#000" stroke-width="1.0" />
<line x1="601.25" y1="333.30" x2="601.25" y2="331.30" stroke="#000" stroke-width="1.0" />
<line x1="601.25" y1="234.70" x2="601.25" y2="236.70" stroke="#000" stroke-width="1.0" />
<line x1="623.10" y1="333.30" x2="623.10" y2="330.30" stroke="#000" stroke-width="1.0" />
<line x1="623.10" y1="234.70" x2="623.10" y2="237.70" stroke="#000" stroke-width="1.0" />
<line x1="644.95" y1="333.30" x2="644.95" y2="331.30" stroke="#000" stroke-width="1.0" />
<line x1="644.95" y1="234.70" x2="644.95" y2="236.70" stroke="#000" stroke-width="1.0" />
<line x1="666.80" y1="333.30" x2="666.80" y2="330.30" stroke="#000" stroke-width="1.0" />
<line x1="666.80" y1="234.70" x2="666.80" y2="237.70" stroke="#000" stroke-width="1.0" />
<text x="492.00" y="346.20" font-size="9.5" font-weight="normal" font-style="normal" text-anchor="middle" fill="#111"  stroke="#111" stroke-width="0.15">50</text>
<text x="535.70" y="346.20" font-size="9.5" font-weight="normal" font-style="normal" text-anchor="middle" fill="#111"  stroke="#111" stroke-width="0.15">100</text>
<text x="579.40" y="346.20" font-size="9.5" font-weight="normal" font-style="normal" text-anchor="middle" fill="#111"  stroke="#111" stroke-width="0.15">150</text>
<text x="623.10" y="346.20" font-size="9.5" font-weight="normal" font-style="normal" text-anchor="middle" fill="#111"  stroke="#111" stroke-width="0.15">200</text>
<text x="666.80" y="346.20" font-size="9.5" font-weight="normal" font-style="normal" text-anchor="middle" fill="#111"  stroke="#111" stroke-width="0.15">250</text>
<text x="585.50" y="355.40" font-size="9.5" font-weight="normal" font-style="normal" text-anchor="middle" fill="#111"  stroke="#111" stroke-width="0.15">m/z</text>
<text x="485.2" y="253.83" font-size="9.4" text-anchor="end" fill="#1a1a1a" stroke="#1a1a1a" stroke-width="0.15">2.0<tspan dx="0.8">×</tspan>10<tspan font-size="8.6" dy="-3.3">7</tspan></text>
<text x="485.2" y="276.06" font-size="9.4" text-anchor="end" fill="#1a1a1a" stroke="#1a1a1a" stroke-width="0.15">1.5<tspan dx="0.8">×</tspan>10<tspan font-size="8.6" dy="-3.3">7</tspan></text>
<text x="485.2" y="298.29" font-size="9.4" text-anchor="end" fill="#1a1a1a" stroke="#1a1a1a" stroke-width="0.15">1.0<tspan dx="0.8">×</tspan>10<tspan font-size="8.6" dy="-3.3">7</tspan></text>
<text x="485.2" y="320.52" font-size="9.4" text-anchor="end" fill="#1a1a1a" stroke="#1a1a1a" stroke-width="0.15">5.0<tspan dx="0.8">×</tspan>10<tspan font-size="8.6" dy="-3.3">6</tspan></text>
<text transform="translate(447.0,282.8) rotate(-90)" font-size="10.3" text-anchor="middle" fill="#111" stroke="#111" stroke-width="0.15">Intensity</text>
<rect x="499.45" y="331.00" width="2.3" height="2.30" fill="#000"/>
<rect x="522.25" y="327.60" width="2.3" height="5.70" fill="#000"/>
<rect x="538.05" y="246.30" width="2.3" height="87.00" fill="#000"/>
<rect x="556.45" y="324.60" width="2.3" height="8.70" fill="#000"/>
<rect x="608.35" y="326.20" width="2.3" height="7.10" fill="#000"/>
<rect x="672.95" y="305.00" width="2.3" height="28.30" fill="#000"/>
<rect x="491.45" y="332.20" width="2.3" height="1.10" fill="#000"/>
<rect x="508.35" y="332.50" width="2.3" height="0.80" fill="#000"/>
<rect x="516.85" y="332.60" width="2.3" height="0.70" fill="#000"/>
<rect x="533.85" y="331.40" width="2.3" height="1.90" fill="#000"/>
<rect x="578.85" y="332.70" width="2.3" height="0.60" fill="#000"/>
<rect x="621.85" y="332.70" width="2.3" height="0.60" fill="#000"/>
<rect x="658.85" y="332.70" width="2.3" height="0.60" fill="#000"/>
<text x="590.20" y="261.40" font-size="5.8" font-weight="normal" font-style="normal" text-anchor="start" fill="#000" font-weight="bold" stroke="#000" stroke-width="0.25">HO</text>
<polyline points="598.40,259.30 604.10,255.80 611.40,259.70 619.20,255.80 624.40,258.60" fill="none" stroke="#000" stroke-width="0.85" stroke-linejoin="miter" />
<line x1="611.40" y1="259.70" x2="611.40" y2="265.40" stroke="#000" stroke-width="0.85" />
<text x="613.60" y="270.00" font-size="5.8" font-weight="normal" font-style="normal" text-anchor="middle" fill="#000" font-weight="bold" stroke="#000" stroke-width="0.25">OH</text>
<text x="626.40" y="261.20" font-size="5.8" font-weight="normal" font-style="normal" text-anchor="middle" fill="#000" font-weight="bold" stroke="#000" stroke-width="0.25">O</text>
<line x1="628.30" y1="258.20" x2="631.40" y2="257.00" stroke="#000" stroke-width="0.85" />
<text x="633.50" y="257.90" font-size="5.8" font-weight="normal" font-style="normal" text-anchor="middle" fill="#000" font-weight="bold" stroke="#000" stroke-width="0.25">P</text>
<text x="633.70" y="249.00" font-size="5.8" font-weight="normal" font-style="normal" text-anchor="middle" fill="#000" font-weight="bold" stroke="#000" stroke-width="0.25">O</text>
<line x1="633.00" y1="250.00" x2="633.00" y2="253.30" stroke="#000" stroke-width="0.6" />
<line x1="634.20" y1="250.00" x2="634.20" y2="253.30" stroke="#000" stroke-width="0.6" />
<line x1="633.60" y1="258.20" x2="633.60" y2="261.40" stroke="#000" stroke-width="0.6" />
<text x="635.60" y="266.20" font-size="5.8" font-weight="normal" font-style="normal" text-anchor="middle" fill="#000" font-weight="bold" stroke="#000" stroke-width="0.25">OH</text>
<line x1="635.90" y1="257.40" x2="639.60" y2="259.30" stroke="#000" stroke-width="0.85" />
<text x="641.60" y="261.40" font-size="5.8" font-weight="normal" font-style="normal" text-anchor="middle" fill="#000" font-weight="bold" stroke="#000" stroke-width="0.25">O</text>
<polyline points="643.80,258.20 648.90,255.30 656.50,260.10 661.20,257.00" fill="none" stroke="#000" stroke-width="0.85" stroke-linejoin="miter" />
<text x="663.00" y="257.00" font-size="5.8" font-weight="normal" font-style="normal" text-anchor="middle" fill="#000" font-weight="bold" stroke="#000" stroke-width="0.25">N</text>
<text x="659.20" y="254.00" font-size="5" font-weight="normal" font-style="normal" text-anchor="start" fill="#111" font-weight="bold" stroke="#111" stroke-width="0.15">+</text>
<text x="661.70" y="248.70" font-size="5.8" font-weight="normal" font-style="normal" text-anchor="start" fill="#000" font-weight="bold" stroke="#000" stroke-width="0.25">CH3</text>
<text x="669.40" y="253.00" font-size="5.8" font-weight="normal" font-style="normal" text-anchor="start" fill="#000" font-weight="bold" stroke="#000" stroke-width="0.25">CH3</text>
<text x="667.80" y="263.40" font-size="5.8" font-weight="normal" font-style="normal" text-anchor="start" fill="#000" font-weight="bold" stroke="#000" stroke-width="0.25">CH3</text>
<line x1="665.30" y1="254.20" x2="669.40" y2="252.40" stroke="#000" stroke-width="0.85" />
<line x1="665.90" y1="257.80" x2="668.50" y2="259.90" stroke="#000" stroke-width="0.85" />
<text x="631.40" y="280.90" font-size="11.2" font-weight="normal" font-style="normal" text-anchor="start" fill="#222"  stroke="#222" stroke-width="0.15">258.1104</text>
<text x="572.30" y="303.20" font-size="5.8" font-weight="normal" font-style="normal" text-anchor="start" fill="#000" font-weight="bold" stroke="#000" stroke-width="0.25">HO</text>
<line x1="580.00" y1="300.90" x2="583.40" y2="298.60" stroke="#000" stroke-width="0.85" />
<text x="585.30" y="298.60" font-size="5.8" font-weight="normal" font-style="normal" text-anchor="middle" fill="#000" font-weight="bold" stroke="#000" stroke-width="0.25">P</text>
<text x="585.80" y="290.40" font-size="5.8" font-weight="normal" font-style="normal" text-anchor="middle" fill="#000" font-weight="bold" stroke="#000" stroke-width="0.25">O</text>
<line x1="584.90" y1="291.50" x2="584.90" y2="294.60" stroke="#000" stroke-width="0.6" />
<line x1="586.10" y1="291.50" x2="586.10" y2="294.60" stroke="#000" stroke-width="0.6" />
<line x1="585.40" y1="299.20" x2="585.40" y2="302.20" stroke="#000" stroke-width="0.6" />
<text x="587.80" y="307.40" font-size="5.8" font-weight="normal" font-style="normal" text-anchor="middle" fill="#000" font-weight="bold" stroke="#000" stroke-width="0.25">OH</text>
<line x1="587.60" y1="299.00" x2="591.20" y2="300.90" stroke="#000" stroke-width="0.85" />
<text x="593.40" y="303.20" font-size="5.8" font-weight="normal" font-style="normal" text-anchor="middle" fill="#000" font-weight="bold" stroke="#000" stroke-width="0.25">O</text>
<polyline points="595.60,300.10 601.00,297.50 607.40,301.60 612.80,298.00" fill="none" stroke="#000" stroke-width="0.85" stroke-linejoin="miter" />
<text x="615.00" y="299.20" font-size="5.8" font-weight="normal" font-style="normal" text-anchor="middle" fill="#000" font-weight="bold" stroke="#000" stroke-width="0.25">N</text>
<text x="611.00" y="296.00" font-size="5" font-weight="normal" font-style="normal" text-anchor="start" fill="#111" font-weight="bold" stroke="#111" stroke-width="0.15">+</text>
<text x="614.40" y="290.40" font-size="5.8" font-weight="normal" font-style="normal" text-anchor="start" fill="#000" font-weight="bold" stroke="#000" stroke-width="0.25">CH3</text>
<text x="621.40" y="294.50" font-size="5.8" font-weight="normal" font-style="normal" text-anchor="start" fill="#000" font-weight="bold" stroke="#000" stroke-width="0.25">CH3</text>
<text x="619.60" y="305.60" font-size="5.8" font-weight="normal" font-style="normal" text-anchor="start" fill="#000" font-weight="bold" stroke="#000" stroke-width="0.25">CH3</text>
<line x1="617.20" y1="296.40" x2="621.40" y2="294.00" stroke="#000" stroke-width="0.85" />
<line x1="617.80" y1="300.20" x2="620.20" y2="302.30" stroke="#000" stroke-width="0.85" />
<text x="588.70" y="319.60" font-size="11.1" font-weight="normal" font-style="normal" text-anchor="start" fill="#222"  stroke="#222" stroke-width="0.15">184.0736</text>
<text x="0.00" y="360.50" font-size="10.5" font-weight="normal" font-style="normal" text-anchor="start" fill="#111"  stroke="#111" stroke-width="0.15">d</text>
<polygon points="124.50,517.10 124.50,514.87 155.53,483.63 186.57,451.49 202.08,420.70 233.12,401.06 248.64,398.38 279.67,398.38 279.67,517.10" fill="#f7f4c1" stroke="none" stroke-width="0" />
<polygon points="124.50,517.10 124.50,514.87 155.53,493.89 186.57,477.38 202.08,473.36 233.12,468.90 248.64,468.90 264.15,471.58 264.15,476.93 279.67,512.19 279.67,517.10" fill="#fadabd" stroke="none" stroke-width="0" />
<polygon points="279.67,512.19 310.70,511.74 341.74,507.73 372.77,487.42 419.32,442.12 450.36,440.34 481.39,420.03 527.94,429.63 527.94,517.10 279.67,517.10" fill="#f7f4c1" stroke="none" stroke-width="0" />
<polygon points="279.67,510.85 372.77,510.85 419.32,502.37 450.36,495.90 481.39,491.21 527.94,480.06 558.98,475.59 590.01,470.68 636.56,472.92 667.60,479.61 667.60,517.10 279.67,517.10" fill="#40e0d0" stroke="none" stroke-width="0" />
<line x1="264.15" y1="476.93" x2="279.67" y2="512.19" stroke="#7f7f7f" stroke-width="1.9" stroke-dasharray="2.4,1.8"/>
<polyline points="124.50,516.21 155.53,484.97 186.57,456.40 202.08,425.61 233.12,401.06 248.64,398.38 279.67,398.38" fill="none" stroke="#000000" stroke-width="1.35" stroke-linejoin="miter" stroke-linejoin="round"/>
<polyline points="124.50,516.21 155.53,485.86 186.57,458.19 202.08,428.29 233.12,401.95 248.64,399.72 279.67,404.19" fill="none" stroke="#000000" stroke-width="1.35" stroke-linejoin="miter" stroke-linejoin="round"/>
<polyline points="124.50,517.10 155.53,487.64 186.57,461.31 202.08,430.52 233.12,403.29 248.64,401.06 279.67,407.76" fill="none" stroke="#ff0000" stroke-width="1.6" stroke-linejoin="miter" stroke-linejoin="round"/>
<polyline points="124.50,517.10 155.53,489.43 186.57,461.76 202.08,440.34 233.12,405.53 248.64,401.95 279.67,409.99" fill="none" stroke="#ff0000" stroke-width="1.6" stroke-linejoin="miter" stroke-linejoin="round"/>
<polyline points="124.50,514.87 155.53,483.63 186.57,451.49 202.08,420.70 233.12,404.19 248.64,402.85 279.67,407.76" fill="none" stroke="#f5901e" stroke-width="1.35" stroke-linejoin="miter" stroke-linejoin="round"/>
<polyline points="124.50,515.31 155.53,484.52 186.57,453.73 202.08,422.48 233.12,406.86 248.64,405.53 279.67,413.11" fill="none" stroke="#f5901e" stroke-width="1.35" stroke-linejoin="miter" stroke-linejoin="round"/>
<polyline points="124.50,516.21 155.53,491.21 186.57,475.59 202.08,470.46 233.12,465.33 248.64,461.31 264.15,464.88" fill="none" stroke="#000000" stroke-width="1.35" stroke-linejoin="miter" stroke-linejoin="round"/>
<polyline points="124.50,516.21 155.53,492.11 186.57,476.49 202.08,472.47 233.12,467.11 248.64,463.54 264.15,465.78" fill="none" stroke="#000000" stroke-width="1.35" stroke-linejoin="miter" stroke-linejoin="round"/>
<polyline points="124.50,517.10 155.53,492.55 186.57,474.26 202.08,471.58 233.12,466.22 248.64,464.88 264.15,468.01" fill="none" stroke="#ff0000" stroke-width="1.6" stroke-linejoin="miter" stroke-linejoin="round"/>
<polyline points="124.50,517.10 155.53,493.89 186.57,476.93 202.08,472.47 233.12,467.11 248.64,466.67 264.15,469.79" fill="none" stroke="#ff0000" stroke-width="1.6" stroke-linejoin="miter" stroke-linejoin="round"/>
<polyline points="124.50,514.87 155.53,493.89 186.57,477.38 202.08,473.36 233.12,468.90 248.64,468.90 264.15,471.58" fill="none" stroke="#f5901e" stroke-width="1.35" stroke-linejoin="miter" stroke-linejoin="round"/>
<polyline points="124.50,515.31 155.53,495.23 186.57,480.95 202.08,476.49 233.12,470.68 248.64,470.24 264.15,476.93" fill="none" stroke="#f5901e" stroke-width="1.35" stroke-linejoin="miter" stroke-linejoin="round"/>
<polyline points="279.67,512.19 310.70,511.74 341.74,510.18 372.77,489.43 419.32,442.79 450.36,441.23 481.39,420.03 527.94,434.98" fill="none" stroke="#000000" stroke-width="1.35" stroke-linejoin="miter" stroke-linejoin="round"/>
<polyline points="279.67,512.19 310.70,511.97 341.74,510.18 372.77,496.12 419.32,442.12 450.36,440.34 481.39,422.48 527.94,429.63" fill="none" stroke="#ff0000" stroke-width="1.6" stroke-linejoin="miter" stroke-linejoin="round"/>
<polyline points="279.67,512.19 310.70,511.74 341.74,510.41 372.77,494.79 419.32,443.01 450.36,441.68 481.39,423.38 527.94,430.96" fill="none" stroke="#ff0000" stroke-width="1.6" stroke-linejoin="miter" stroke-linejoin="round"/>
<polyline points="279.67,512.19 310.70,512.64 341.74,507.73 372.77,487.42 419.32,442.79 450.36,442.79 481.39,425.61 527.94,431.41" fill="none" stroke="#f5901e" stroke-width="1.35" stroke-linejoin="miter" stroke-linejoin="round"/>
<polyline points="279.67,512.19 310.70,514.87 341.74,509.07 372.77,490.32 419.32,446.81 450.36,445.69 481.39,426.95 527.94,432.30" fill="none" stroke="#f5901e" stroke-width="1.35" stroke-linejoin="miter" stroke-linejoin="round"/>
<polyline points="279.67,512.19 310.70,511.74 341.74,510.41 372.77,511.30 419.32,502.37 450.36,496.12 481.39,493.45 527.94,484.07 558.98,473.81 590.01,466.22 636.56,470.68 667.60,478.27" fill="none" stroke="#000000" stroke-width="1.35" stroke-linejoin="miter" stroke-linejoin="round"/>
<polyline points="279.67,512.19 310.70,512.19 341.74,511.30 372.77,511.74 419.32,503.26 450.36,497.46 481.39,494.79 527.94,485.86 558.98,476.49 590.01,471.13 636.56,473.81 667.60,481.40" fill="none" stroke="#000000" stroke-width="1.35" stroke-linejoin="miter" stroke-linejoin="round"/>
<polyline points="279.67,512.19 310.70,511.97 341.74,511.74 372.77,511.74 419.32,507.73 450.36,503.71 481.39,501.48 527.94,498.36 558.98,498.36 590.01,498.80 636.56,495.68 667.60,501.03" fill="none" stroke="#ff0000" stroke-width="1.6" stroke-linejoin="miter" stroke-linejoin="round"/>
<polyline points="279.67,512.19 310.70,511.97 341.74,511.74 372.77,511.74 419.32,507.73 450.36,504.16 481.39,502.37 527.94,498.80 558.98,499.69 590.01,498.80 636.56,495.68 667.60,501.03" fill="none" stroke="#ff0000" stroke-width="1.6" stroke-linejoin="miter" stroke-linejoin="round"/>
<polyline points="279.67,512.19 310.70,516.65 341.74,513.53 372.77,511.97 419.32,504.38 450.36,498.36 481.39,495.23 527.94,490.77 558.98,492.11 590.01,493.45 636.56,485.86 667.60,493.89" fill="none" stroke="#f5901e" stroke-width="1.35" stroke-linejoin="miter" stroke-linejoin="round"/>
<circle cx="124.50" cy="516.21" r="3.1" fill="#000000" stroke="#1a1a1a" stroke-width="0.7"/>
<circle cx="155.53" cy="484.97" r="3.1" fill="#000000" stroke="#1a1a1a" stroke-width="0.7"/>
<circle cx="186.57" cy="456.40" r="3.1" fill="#000000" stroke="#1a1a1a" stroke-width="0.7"/>
<circle cx="202.08" cy="425.61" r="3.1" fill="#000000" stroke="#1a1a1a" stroke-width="0.7"/>
<circle cx="233.12" cy="401.06" r="3.1" fill="#000000" stroke="#1a1a1a" stroke-width="0.7"/>
<circle cx="248.64" cy="398.38" r="3.1" fill="#000000" stroke="#1a1a1a" stroke-width="0.7"/>
<circle cx="279.67" cy="398.38" r="3.1" fill="#000000" stroke="#1a1a1a" stroke-width="0.7"/>
<circle cx="124.50" cy="516.21" r="3.1" fill="#000000" stroke="#1a1a1a" stroke-width="0.7"/>
<circle cx="155.53" cy="485.86" r="3.1" fill="#000000" stroke="#1a1a1a" stroke-width="0.7"/>
<circle cx="186.57" cy="458.19" r="3.1" fill="#000000" stroke="#1a1a1a" stroke-width="0.7"/>
<circle cx="202.08" cy="428.29" r="3.1" fill="#000000" stroke="#1a1a1a" stroke-width="0.7"/>
<circle cx="233.12" cy="401.95" r="3.1" fill="#000000" stroke="#1a1a1a" stroke-width="0.7"/>
<circle cx="248.64" cy="399.72" r="3.1" fill="#000000" stroke="#1a1a1a" stroke-width="0.7"/>
<circle cx="279.67" cy="404.19" r="3.1" fill="#000000" stroke="#1a1a1a" stroke-width="0.7"/>
<circle cx="124.50" cy="517.10" r="3.1" fill="#ff0000" stroke="#1a1a1a" stroke-width="0.7"/>
<circle cx="155.53" cy="487.64" r="3.1" fill="#ff0000" stroke="#1a1a1a" stroke-width="0.7"/>
<circle cx="186.57" cy="461.31" r="3.1" fill="#ff0000" stroke="#1a1a1a" stroke-width="0.7"/>
<circle cx="202.08" cy="430.52" r="3.1" fill="#ff0000" stroke="#1a1a1a" stroke-width="0.7"/>
<circle cx="233.12" cy="403.29" r="3.1" fill="#ff0000" stroke="#1a1a1a" stroke-width="0.7"/>
<circle cx="248.64" cy="401.06" r="3.1" fill="#ff0000" stroke="#1a1a1a" stroke-width="0.7"/>
<circle cx="279.67" cy="407.76" r="3.1" fill="#ff0000" stroke="#1a1a1a" stroke-width="0.7"/>
<circle cx="124.50" cy="517.10" r="3.1" fill="#ff0000" stroke="#1a1a1a" stroke-width="0.7"/>
<circle cx="155.53" cy="489.43" r="3.1" fill="#ff0000" stroke="#1a1a1a" stroke-width="0.7"/>
<circle cx="186.57" cy="461.76" r="3.1" fill="#ff0000" stroke="#1a1a1a" stroke-width="0.7"/>
<circle cx="202.08" cy="440.34" r="3.1" fill="#ff0000" stroke="#1a1a1a" stroke-width="0.7"/>
<circle cx="233.12" cy="405.53" r="3.1" fill="#ff0000" stroke="#1a1a1a" stroke-width="0.7"/>
<circle cx="248.64" cy="401.95" r="3.1" fill="#ff0000" stroke="#1a1a1a" stroke-width="0.7"/>
<circle cx="279.67" cy="409.99" r="3.1" fill="#ff0000" stroke="#1a1a1a" stroke-width="0.7"/>
<circle cx="124.50" cy="514.87" r="3.1" fill="#ff8000" stroke="#1a1a1a" stroke-width="0.7"/>
<circle cx="155.53" cy="483.63" r="3.1" fill="#ff8000" stroke="#1a1a1a" stroke-width="0.7"/>
<circle cx="186.57" cy="451.49" r="3.1" fill="#ff8000" stroke="#1a1a1a" stroke-width="0.7"/>
<circle cx="202.08" cy="420.70" r="3.1" fill="#ff8000" stroke="#1a1a1a" stroke-width="0.7"/>
<circle cx="233.12" cy="404.19" r="3.1" fill="#ff8000" stroke="#1a1a1a" stroke-width="0.7"/>
<circle cx="248.64" cy="402.85" r="3.1" fill="#ff8000" stroke="#1a1a1a" stroke-width="0.7"/>
<circle cx="279.67" cy="407.76" r="3.1" fill="#ff8000" stroke="#1a1a1a" stroke-width="0.7"/>
<circle cx="124.50" cy="515.31" r="3.1" fill="#ff8000" stroke="#1a1a1a" stroke-width="0.7"/>
<circle cx="155.53" cy="484.52" r="3.1" fill="#ff8000" stroke="#1a1a1a" stroke-width="0.7"/>
<circle cx="186.57" cy="453.73" r="3.1" fill="#ff8000" stroke="#1a1a1a" stroke-width="0.7"/>
<circle cx="202.08" cy="422.48" r="3.1" fill="#ff8000" stroke="#1a1a1a" stroke-width="0.7"/>
<circle cx="233.12" cy="406.86" r="3.1" fill="#ff8000" stroke="#1a1a1a" stroke-width="0.7"/>
<circle cx="248.64" cy="405.53" r="3.1" fill="#ff8000" stroke="#1a1a1a" stroke-width="0.7"/>
<circle cx="279.67" cy="413.11" r="3.1" fill="#ff8000" stroke="#1a1a1a" stroke-width="0.7"/>
<circle cx="124.50" cy="516.21" r="3.1" fill="#000000" stroke="#1a1a1a" stroke-width="0.7"/>
<circle cx="155.53" cy="491.21" r="3.1" fill="#000000" stroke="#1a1a1a" stroke-width="0.7"/>
<circle cx="186.57" cy="475.59" r="3.1" fill="#000000" stroke="#1a1a1a" stroke-width="0.7"/>
<circle cx="202.08" cy="470.46" r="3.1" fill="#000000" stroke="#1a1a1a" stroke-width="0.7"/>
<circle cx="233.12" cy="465.33" r="3.1" fill="#000000" stroke="#1a1a1a" stroke-width="0.7"/>
<circle cx="248.64" cy="461.31" r="3.1" fill="#000000" stroke="#1a1a1a" stroke-width="0.7"/>
<circle cx="264.15" cy="464.88" r="3.1" fill="#000000" stroke="#1a1a1a" stroke-width="0.7"/>
<circle cx="124.50" cy="516.21" r="3.1" fill="#000000" stroke="#1a1a1a" stroke-width="0.7"/>
<circle cx="155.53" cy="492.11" r="3.1" fill="#000000" stroke="#1a1a1a" stroke-width="0.7"/>
<circle cx="186.57" cy="476.49" r="3.1" fill="#000000" stroke="#1a1a1a" stroke-width="0.7"/>
<circle cx="202.08" cy="472.47" r="3.1" fill="#000000" stroke="#1a1a1a" stroke-width="0.7"/>
<circle cx="233.12" cy="467.11" r="3.1" fill="#000000" stroke="#1a1a1a" stroke-width="0.7"/>
<circle cx="248.64" cy="463.54" r="3.1" fill="#000000" stroke="#1a1a1a" stroke-width="0.7"/>
<circle cx="264.15" cy="465.78" r="3.1" fill="#000000" stroke="#1a1a1a" stroke-width="0.7"/>
<circle cx="124.50" cy="517.10" r="3.1" fill="#ff0000" stroke="#1a1a1a" stroke-width="0.7"/>
<circle cx="155.53" cy="492.55" r="3.1" fill="#ff0000" stroke="#1a1a1a" stroke-width="0.7"/>
<circle cx="186.57" cy="474.26" r="3.1" fill="#ff0000" stroke="#1a1a1a" stroke-width="0.7"/>
<circle cx="202.08" cy="471.58" r="3.1" fill="#ff0000" stroke="#1a1a1a" stroke-width="0.7"/>
<circle cx="233.12" cy="466.22" r="3.1" fill="#ff0000" stroke="#1a1a1a" stroke-width="0.7"/>
<circle cx="248.64" cy="464.88" r="3.1" fill="#ff0000" stroke="#1a1a1a" stroke-width="0.7"/>
<circle cx="264.15" cy="468.01" r="3.1" fill="#ff0000" stroke="#1a1a1a" stroke-width="0.7"/>
<circle cx="124.50" cy="517.10" r="3.1" fill="#ff0000" stroke="#1a1a1a" stroke-width="0.7"/>
<circle cx="155.53" cy="493.89" r="3.1" fill="#ff0000" stroke="#1a1a1a" stroke-width="0.7"/>
<circle cx="186.57" cy="476.93" r="3.1" fill="#ff0000" stroke="#1a1a1a" stroke-width="0.7"/>
<circle cx="202.08" cy="472.47" r="3.1" fill="#ff0000" stroke="#1a1a1a" stroke-width="0.7"/>
<circle cx="233.12" cy="467.11" r="3.1" fill="#ff0000" stroke="#1a1a1a" stroke-width="0.7"/>
<circle cx="248.64" cy="466.67" r="3.1" fill="#ff0000" stroke="#1a1a1a" stroke-width="0.7"/>
<circle cx="264.15" cy="469.79" r="3.1" fill="#ff0000" stroke="#1a1a1a" stroke-width="0.7"/>
<circle cx="124.50" cy="514.87" r="3.1" fill="#ff8000" stroke="#1a1a1a" stroke-width="0.7"/>
<circle cx="155.53" cy="493.89" r="3.1" fill="#ff8000" stroke="#1a1a1a" stroke-width="0.7"/>
<circle cx="186.57" cy="477.38" r="3.1" fill="#ff8000" stroke="#1a1a1a" stroke-width="0.7"/>
<circle cx="202.08" cy="473.36" r="3.1" fill="#ff8000" stroke="#1a1a1a" stroke-width="0.7"/>
<circle cx="233.12" cy="468.90" r="3.1" fill="#ff8000" stroke="#1a1a1a" stroke-width="0.7"/>
<circle cx="248.64" cy="468.90" r="3.1" fill="#ff8000" stroke="#1a1a1a" stroke-width="0.7"/>
<circle cx="264.15" cy="471.58" r="3.1" fill="#ff8000" stroke="#1a1a1a" stroke-width="0.7"/>
<circle cx="124.50" cy="515.31" r="3.1" fill="#ff8000" stroke="#1a1a1a" stroke-width="0.7"/>
<circle cx="155.53" cy="495.23" r="3.1" fill="#ff8000" stroke="#1a1a1a" stroke-width="0.7"/>
<circle cx="186.57" cy="480.95" r="3.1" fill="#ff8000" stroke="#1a1a1a" stroke-width="0.7"/>
<circle cx="202.08" cy="476.49" r="3.1" fill="#ff8000" stroke="#1a1a1a" stroke-width="0.7"/>
<circle cx="233.12" cy="470.68" r="3.1" fill="#ff8000" stroke="#1a1a1a" stroke-width="0.7"/>
<circle cx="248.64" cy="470.24" r="3.1" fill="#ff8000" stroke="#1a1a1a" stroke-width="0.7"/>
<circle cx="264.15" cy="476.93" r="3.1" fill="#ff8000" stroke="#1a1a1a" stroke-width="0.7"/>
<circle cx="279.67" cy="512.19" r="3.1" fill="#000000" stroke="#1a1a1a" stroke-width="0.7"/>
<circle cx="310.70" cy="511.74" r="3.1" fill="#000000" stroke="#1a1a1a" stroke-width="0.7"/>
<circle cx="341.74" cy="510.18" r="3.1" fill="#000000" stroke="#1a1a1a" stroke-width="0.7"/>
<circle cx="372.77" cy="489.43" r="3.1" fill="#000000" stroke="#1a1a1a" stroke-width="0.7"/>
<circle cx="419.32" cy="442.79" r="3.1" fill="#000000" stroke="#1a1a1a" stroke-width="0.7"/>
<circle cx="450.36" cy="441.23" r="3.1" fill="#000000" stroke="#1a1a1a" stroke-width="0.7"/>
<circle cx="481.39" cy="420.03" r="3.1" fill="#000000" stroke="#1a1a1a" stroke-width="0.7"/>
<circle cx="527.94" cy="434.98" r="3.1" fill="#000000" stroke="#1a1a1a" stroke-width="0.7"/>
<circle cx="279.67" cy="512.19" r="3.1" fill="#ff0000" stroke="#1a1a1a" stroke-width="0.7"/>
<circle cx="310.70" cy="511.97" r="3.1" fill="#ff0000" stroke="#1a1a1a" stroke-width="0.7"/>
<circle cx="341.74" cy="510.18" r="3.1" fill="#ff0000" stroke="#1a1a1a" stroke-width="0.7"/>
<circle cx="372.77" cy="496.12" r="3.1" fill="#ff0000" stroke="#1a1a1a" stroke-width="0.7"/>
<circle cx="419.32" cy="442.12" r="3.1" fill="#ff0000" stroke="#1a1a1a" stroke-width="0.7"/>
<circle cx="450.36" cy="440.34" r="3.1" fill="#ff0000" stroke="#1a1a1a" stroke-width="0.7"/>
<circle cx="481.39" cy="422.48" r="3.1" fill="#ff0000" stroke="#1a1a1a" stroke-width="0.7"/>
<circle cx="527.94" cy="429.63" r="3.1" fill="#ff0000" stroke="#1a1a1a" stroke-width="0.7"/>
<circle cx="279.67" cy="512.19" r="3.1" fill="#ff0000" stroke="#1a1a1a" stroke-width="0.7"/>
<circle cx="310.70" cy="511.74" r="3.1" fill="#ff0000" stroke="#1a1a1a" stroke-width="0.7"/>
<circle cx="341.74" cy="510.41" r="3.1" fill="#ff0000" stroke="#1a1a1a" stroke-width="0.7"/>
<circle cx="372.77" cy="494.79" r="3.1" fill="#ff0000" stroke="#1a1a1a" stroke-width="0.7"/>
<circle cx="419.32" cy="443.01" r="3.1" fill="#ff0000" stroke="#1a1a1a" stroke-width="0.7"/>
<circle cx="450.36" cy="441.68" r="3.1" fill="#ff0000" stroke="#1a1a1a" stroke-width="0.7"/>
<circle cx="481.39" cy="423.38" r="3.1" fill="#ff0000" stroke="#1a1a1a" stroke-width="0.7"/>
<circle cx="527.94" cy="430.96" r="3.1" fill="#ff0000" stroke="#1a1a1a" stroke-width="0.7"/>
<circle cx="279.67" cy="512.19" r="3.1" fill="#ff8000" stroke="#1a1a1a" stroke-width="0.7"/>
<circle cx="310.70" cy="512.64" r="3.1" fill="#ff8000" stroke="#1a1a1a" stroke-width="0.7"/>
<circle cx="341.74" cy="507.73" r="3.1" fill="#ff8000" stroke="#1a1a1a" stroke-width="0.7"/>
<circle cx="372.77" cy="487.42" r="3.1" fill="#ff8000" stroke="#1a1a1a" stroke-width="0.7"/>
<circle cx="419.32" cy="442.79" r="3.1" fill="#ff8000" stroke="#1a1a1a" stroke-width="0.7"/>
<circle cx="450.36" cy="442.79" r="3.1" fill="#ff8000" stroke="#1a1a1a" stroke-width="0.7"/>
<circle cx="481.39" cy="425.61" r="3.1" fill="#ff8000" stroke="#1a1a1a" stroke-width="0.7"/>
<circle cx="527.94" cy="431.41" r="3.1" fill="#ff8000" stroke="#1a1a1a" stroke-width="0.7"/>
<circle cx="279.67" cy="512.19" r="3.1" fill="#ff8000" stroke="#1a1a1a" stroke-width="0.7"/>
<circle cx="310.70" cy="514.87" r="3.1" fill="#ff8000" stroke="#1a1a1a" stroke-width="0.7"/>
<circle cx="341.74" cy="509.07" r="3.1" fill="#ff8000" stroke="#1a1a1a" stroke-width="0.7"/>
<circle cx="372.77" cy="490.32" r="3.1" fill="#ff8000" stroke="#1a1a1a" stroke-width="0.7"/>
<circle cx="419.32" cy="446.81" r="3.1" fill="#ff8000" stroke="#1a1a1a" stroke-width="0.7"/>
<circle cx="450.36" cy="445.69" r="3.1" fill="#ff8000" stroke="#1a1a1a" stroke-width="0.7"/>
<circle cx="481.39" cy="426.95" r="3.1" fill="#ff8000" stroke="#1a1a1a" stroke-width="0.7"/>
<circle cx="527.94" cy="432.30" r="3.1" fill="#ff8000" stroke="#1a1a1a" stroke-width="0.7"/>
<circle cx="279.67" cy="512.19" r="3.1" fill="#000000" stroke="#1a1a1a" stroke-width="0.7"/>
<circle cx="310.70" cy="511.74" r="3.1" fill="#000000" stroke="#1a1a1a" stroke-width="0.7"/>
<circle cx="341.74" cy="510.41" r="3.1" fill="#000000" stroke="#1a1a1a" stroke-width="0.7"/>
<circle cx="372.77" cy="511.30" r="3.1" fill="#000000" stroke="#1a1a1a" stroke-width="0.7"/>
<circle cx="419.32" cy="502.37" r="3.1" fill="#000000" stroke="#1a1a1a" stroke-width="0.7"/>
<circle cx="450.36" cy="496.12" r="3.1" fill="#000000" stroke="#1a1a1a" stroke-width="0.7"/>
<circle cx="481.39" cy="493.45" r="3.1" fill="#000000" stroke="#1a1a1a" stroke-width="0.7"/>
<circle cx="527.94" cy="484.07" r="3.1" fill="#000000" stroke="#1a1a1a" stroke-width="0.7"/>
<circle cx="558.98" cy="473.81" r="3.1" fill="#000000" stroke="#1a1a1a" stroke-width="0.7"/>
<circle cx="590.01" cy="466.22" r="3.1" fill="#000000" stroke="#1a1a1a" stroke-width="0.7"/>
<circle cx="636.56" cy="470.68" r="3.1" fill="#000000" stroke="#1a1a1a" stroke-width="0.7"/>
<circle cx="667.60" cy="478.27" r="3.1" fill="#000000" stroke="#1a1a1a" stroke-width="0.7"/>
<circle cx="279.67" cy="512.19" r="3.1" fill="#000000" stroke="#1a1a1a" stroke-width="0.7"/>
<circle cx="310.70" cy="512.19" r="3.1" fill="#000000" stroke="#1a1a1a" stroke-width="0.7"/>
<circle cx="341.74" cy="511.30" r="3.1" fill="#000000" stroke="#1a1a1a" stroke-width="0.7"/>
<circle cx="372.77" cy="511.74" r="3.1" fill="#000000" stroke="#1a1a1a" stroke-width="0.7"/>
<circle cx="419.32" cy="503.26" r="3.1" fill="#000000" stroke="#1a1a1a" stroke-width="0.7"/>
<circle cx="450.36" cy="497.46" r="3.1" fill="#000000" stroke="#1a1a1a" stroke-width="0.7"/>
<circle cx="481.39" cy="494.79" r="3.1" fill="#000000" stroke="#1a1a1a" stroke-width="0.7"/>
<circle cx="527.94" cy="485.86" r="3.1" fill="#000000" stroke="#1a1a1a" stroke-width="0.7"/>
<circle cx="558.98" cy="476.49" r="3.1" fill="#000000" stroke="#1a1a1a" stroke-width="0.7"/>
<circle cx="590.01" cy="471.13" r="3.1" fill="#000000" stroke="#1a1a1a" stroke-width="0.7"/>
<circle cx="636.56" cy="473.81" r="3.1" fill="#000000" stroke="#1a1a1a" stroke-width="0.7"/>
<circle cx="667.60" cy="481.40" r="3.1" fill="#000000" stroke="#1a1a1a" stroke-width="0.7"/>
<circle cx="279.67" cy="512.19" r="3.1" fill="#ff0000" stroke="#1a1a1a" stroke-width="0.7"/>
<circle cx="310.70" cy="511.97" r="3.1" fill="#ff0000" stroke="#1a1a1a" stroke-width="0.7"/>
<circle cx="341.74" cy="511.74" r="3.1" fill="#ff0000" stroke="#1a1a1a" stroke-width="0.7"/>
<circle cx="372.77" cy="511.74" r="3.1" fill="#ff0000" stroke="#1a1a1a" stroke-width="0.7"/>
<circle cx="419.32" cy="507.73" r="3.1" fill="#ff0000" stroke="#1a1a1a" stroke-width="0.7"/>
<circle cx="450.36" cy="503.71" r="3.1" fill="#ff0000" stroke="#1a1a1a" stroke-width="0.7"/>
<circle cx="481.39" cy="501.48" r="3.1" fill="#ff0000" stroke="#1a1a1a" stroke-width="0.7"/>
<circle cx="527.94" cy="498.36" r="3.1" fill="#ff0000" stroke="#1a1a1a" stroke-width="0.7"/>
<circle cx="558.98" cy="498.36" r="3.1" fill="#ff0000" stroke="#1a1a1a" stroke-width="0.7"/>
<circle cx="590.01" cy="498.80" r="3.1" fill="#ff0000" stroke="#1a1a1a" stroke-width="0.7"/>
<circle cx="636.56" cy="495.68" r="3.1" fill="#ff0000" stroke="#1a1a1a" stroke-width="0.7"/>
<circle cx="667.60" cy="501.03" r="3.1" fill="#ff0000" stroke="#1a1a1a" stroke-width="0.7"/>
<circle cx="279.67" cy="512.19" r="3.1" fill="#ff0000" stroke="#1a1a1a" stroke-width="0.7"/>
<circle cx="310.70" cy="511.97" r="3.1" fill="#ff0000" stroke="#1a1a1a" stroke-width="0.7"/>
<circle cx="341.74" cy="511.74" r="3.1" fill="#ff0000" stroke="#1a1a1a" stroke-width="0.7"/>
<circle cx="372.77" cy="511.74" r="3.1" fill="#ff0000" stroke="#1a1a1a" stroke-width="0.7"/>
<circle cx="419.32" cy="507.73" r="3.1" fill="#ff0000" stroke="#1a1a1a" stroke-width="0.7"/>
<circle cx="450.36" cy="504.16" r="3.1" fill="#ff0000" stroke="#1a1a1a" stroke-width="0.7"/>
<circle cx="481.39" cy="502.37" r="3.1" fill="#ff0000" stroke="#1a1a1a" stroke-width="0.7"/>
<circle cx="527.94" cy="498.80" r="3.1" fill="#ff0000" stroke="#1a1a1a" stroke-width="0.7"/>
<circle cx="558.98" cy="499.69" r="3.1" fill="#ff0000" stroke="#1a1a1a" stroke-width="0.7"/>
<circle cx="590.01" cy="498.80" r="3.1" fill="#ff0000" stroke="#1a1a1a" stroke-width="0.7"/>
<circle cx="636.56" cy="495.68" r="3.1" fill="#ff0000" stroke="#1a1a1a" stroke-width="0.7"/>
<circle cx="667.60" cy="501.03" r="3.1" fill="#ff0000" stroke="#1a1a1a" stroke-width="0.7"/>
<circle cx="279.67" cy="512.19" r="3.1" fill="#ff8000" stroke="#1a1a1a" stroke-width="0.7"/>
<circle cx="310.70" cy="516.65" r="3.1" fill="#ff8000" stroke="#1a1a1a" stroke-width="0.7"/>
<circle cx="341.74" cy="513.53" r="3.1" fill="#ff8000" stroke="#1a1a1a" stroke-width="0.7"/>
<circle cx="372.77" cy="511.97" r="3.1" fill="#ff8000" stroke="#1a1a1a" stroke-width="0.7"/>
<circle cx="419.32" cy="504.38" r="3.1" fill="#ff8000" stroke="#1a1a1a" stroke-width="0.7"/>
<circle cx="450.36" cy="498.36" r="3.1" fill="#ff8000" stroke="#1a1a1a" stroke-width="0.7"/>
<circle cx="481.39" cy="495.23" r="3.1" fill="#ff8000" stroke="#1a1a1a" stroke-width="0.7"/>
<circle cx="527.94" cy="490.77" r="3.1" fill="#ff8000" stroke="#1a1a1a" stroke-width="0.7"/>
<circle cx="558.98" cy="492.11" r="3.1" fill="#ff8000" stroke="#1a1a1a" stroke-width="0.7"/>
<circle cx="590.01" cy="493.45" r="3.1" fill="#ff8000" stroke="#1a1a1a" stroke-width="0.7"/>
<circle cx="636.56" cy="485.86" r="3.1" fill="#ff8000" stroke="#1a1a1a" stroke-width="0.7"/>
<circle cx="667.60" cy="493.89" r="3.1" fill="#ff8000" stroke="#1a1a1a" stroke-width="0.7"/>
<rect x="124.4" y="383.2" width="558.6" height="133.8" fill="none" stroke="#111" stroke-width="1.3"/>
<line x1="124.50" y1="517.00" x2="124.50" y2="512.70" stroke="#111" stroke-width="1.1" />
<line x1="124.50" y1="383.20" x2="124.50" y2="387.50" stroke="#111" stroke-width="1.1" />
<line x1="163.29" y1="517.00" x2="163.29" y2="514.40" stroke="#111" stroke-width="1.1" />
<line x1="163.29" y1="383.20" x2="163.29" y2="385.80" stroke="#111" stroke-width="1.1" />
<line x1="202.08" y1="517.00" x2="202.08" y2="512.70" stroke="#111" stroke-width="1.1" />
<line x1="202.08" y1="383.20" x2="202.08" y2="387.50" stroke="#111" stroke-width="1.1" />
<line x1="240.88" y1="517.00" x2="240.88" y2="514.40" stroke="#111" stroke-width="1.1" />
<line x1="240.88" y1="383.20" x2="240.88" y2="385.80" stroke="#111" stroke-width="1.1" />
<line x1="279.67" y1="517.00" x2="279.67" y2="512.70" stroke="#111" stroke-width="1.1" />
<line x1="279.67" y1="383.20" x2="279.67" y2="387.50" stroke="#111" stroke-width="1.1" />
<line x1="318.46" y1="517.00" x2="318.46" y2="514.40" stroke="#111" stroke-width="1.1" />
<line x1="318.46" y1="383.20" x2="318.46" y2="385.80" stroke="#111" stroke-width="1.1" />
<line x1="357.25" y1="517.00" x2="357.25" y2="512.70" stroke="#111" stroke-width="1.1" />
<line x1="357.25" y1="383.20" x2="357.25" y2="387.50" stroke="#111" stroke-width="1.1" />
<line x1="396.05" y1="517.00" x2="396.05" y2="514.40" stroke="#111" stroke-width="1.1" />
<line x1="396.05" y1="383.20" x2="396.05" y2="385.80" stroke="#111" stroke-width="1.1" />
<line x1="434.84" y1="517.00" x2="434.84" y2="512.70" stroke="#111" stroke-width="1.1" />
<line x1="434.84" y1="383.20" x2="434.84" y2="387.50" stroke="#111" stroke-width="1.1" />
<line x1="473.63" y1="517.00" x2="473.63" y2="514.40" stroke="#111" stroke-width="1.1" />
<line x1="473.63" y1="383.20" x2="473.63" y2="385.80" stroke="#111" stroke-width="1.1" />
<line x1="512.42" y1="517.00" x2="512.42" y2="512.70" stroke="#111" stroke-width="1.1" />
<line x1="512.42" y1="383.20" x2="512.42" y2="387.50" stroke="#111" stroke-width="1.1" />
<line x1="551.22" y1="517.00" x2="551.22" y2="514.40" stroke="#111" stroke-width="1.1" />
<line x1="551.22" y1="383.20" x2="551.22" y2="385.80" stroke="#111" stroke-width="1.1" />
<line x1="590.01" y1="517.00" x2="590.01" y2="512.70" stroke="#111" stroke-width="1.1" />
<line x1="590.01" y1="383.20" x2="590.01" y2="387.50" stroke="#111" stroke-width="1.1" />
<line x1="628.80" y1="517.00" x2="628.80" y2="514.40" stroke="#111" stroke-width="1.1" />
<line x1="628.80" y1="383.20" x2="628.80" y2="385.80" stroke="#111" stroke-width="1.1" />
<line x1="667.60" y1="517.00" x2="667.60" y2="512.70" stroke="#111" stroke-width="1.1" />
<line x1="667.60" y1="383.20" x2="667.60" y2="387.50" stroke="#111" stroke-width="1.1" />
<line x1="124.40" y1="505.94" x2="127.00" y2="505.94" stroke="#111" stroke-width="1.1" />
<line x1="683.00" y1="505.94" x2="680.40" y2="505.94" stroke="#111" stroke-width="1.1" />
<line x1="124.40" y1="494.79" x2="128.70" y2="494.79" stroke="#111" stroke-width="1.1" />
<line x1="683.00" y1="494.79" x2="678.70" y2="494.79" stroke="#111" stroke-width="1.1" />
<line x1="124.40" y1="483.63" x2="127.00" y2="483.63" stroke="#111" stroke-width="1.1" />
<line x1="683.00" y1="483.63" x2="680.40" y2="483.63" stroke="#111" stroke-width="1.1" />
<line x1="124.40" y1="472.47" x2="128.70" y2="472.47" stroke="#111" stroke-width="1.1" />
<line x1="683.00" y1="472.47" x2="678.70" y2="472.47" stroke="#111" stroke-width="1.1" />
<line x1="124.40" y1="461.31" x2="127.00" y2="461.31" stroke="#111" stroke-width="1.1" />
<line x1="683.00" y1="461.31" x2="680.40" y2="461.31" stroke="#111" stroke-width="1.1" />
<line x1="124.40" y1="450.16" x2="128.70" y2="450.16" stroke="#111" stroke-width="1.1" />
<line x1="683.00" y1="450.16" x2="678.70" y2="450.16" stroke="#111" stroke-width="1.1" />
<line x1="124.40" y1="439.00" x2="127.00" y2="439.00" stroke="#111" stroke-width="1.1" />
<line x1="683.00" y1="439.00" x2="680.40" y2="439.00" stroke="#111" stroke-width="1.1" />
<line x1="124.40" y1="427.84" x2="128.70" y2="427.84" stroke="#111" stroke-width="1.1" />
<line x1="683.00" y1="427.84" x2="678.70" y2="427.84" stroke="#111" stroke-width="1.1" />
<line x1="124.40" y1="416.68" x2="127.00" y2="416.68" stroke="#111" stroke-width="1.1" />
<line x1="683.00" y1="416.68" x2="680.40" y2="416.68" stroke="#111" stroke-width="1.1" />
<line x1="124.40" y1="405.53" x2="128.70" y2="405.53" stroke="#111" stroke-width="1.1" />
<line x1="683.00" y1="405.53" x2="678.70" y2="405.53" stroke="#111" stroke-width="1.1" />
<line x1="124.40" y1="394.37" x2="127.00" y2="394.37" stroke="#111" stroke-width="1.1" />
<line x1="683.00" y1="394.37" x2="680.40" y2="394.37" stroke="#111" stroke-width="1.1" />
<text x="118.80" y="521.00" font-size="10.7" font-weight="normal" font-style="normal" text-anchor="end" fill="#1a1a1a"  stroke="#1a1a1a" stroke-width="0.15">0.0</text>
<text x="118.80" y="498.69" font-size="10.7" font-weight="normal" font-style="normal" text-anchor="end" fill="#1a1a1a"  stroke="#1a1a1a" stroke-width="0.15">0.5</text>
<text x="118.80" y="476.37" font-size="10.7" font-weight="normal" font-style="normal" text-anchor="end" fill="#1a1a1a"  stroke="#1a1a1a" stroke-width="0.15">1.0</text>
<text x="118.80" y="454.06" font-size="10.7" font-weight="normal" font-style="normal" text-anchor="end" fill="#1a1a1a"  stroke="#1a1a1a" stroke-width="0.15">1.5</text>
<text x="118.80" y="431.74" font-size="10.7" font-weight="normal" font-style="normal" text-anchor="end" fill="#1a1a1a"  stroke="#1a1a1a" stroke-width="0.15">2.0</text>
<text x="118.80" y="409.43" font-size="10.7" font-weight="normal" font-style="normal" text-anchor="end" fill="#1a1a1a"  stroke="#1a1a1a" stroke-width="0.15">2.5</text>
<text x="118.80" y="387.11" font-size="10.7" font-weight="normal" font-style="normal" text-anchor="end" fill="#1a1a1a"  stroke="#1a1a1a" stroke-width="0.15">3.0</text>
<text x="124.50" y="531.20" font-size="11.0" font-weight="normal" font-style="normal" text-anchor="middle" fill="#1a1a1a"  stroke="#1a1a1a" stroke-width="0.15">0</text>
<text x="202.08" y="531.20" font-size="11.0" font-weight="normal" font-style="normal" text-anchor="middle" fill="#1a1a1a"  stroke="#1a1a1a" stroke-width="0.15">5</text>
<text x="279.67" y="531.20" font-size="11.0" font-weight="normal" font-style="normal" text-anchor="middle" fill="#1a1a1a"  stroke="#1a1a1a" stroke-width="0.15">10</text>
<text x="357.25" y="531.20" font-size="11.0" font-weight="normal" font-style="normal" text-anchor="middle" fill="#1a1a1a"  stroke="#1a1a1a" stroke-width="0.15">15</text>
<text x="434.84" y="531.20" font-size="11.0" font-weight="normal" font-style="normal" text-anchor="middle" fill="#1a1a1a"  stroke="#1a1a1a" stroke-width="0.15">20</text>
<text x="512.42" y="531.20" font-size="11.0" font-weight="normal" font-style="normal" text-anchor="middle" fill="#1a1a1a"  stroke="#1a1a1a" stroke-width="0.15">25</text>
<text x="590.01" y="531.20" font-size="11.0" font-weight="normal" font-style="normal" text-anchor="middle" fill="#1a1a1a"  stroke="#1a1a1a" stroke-width="0.15">30</text>
<text x="667.60" y="531.20" font-size="11.0" font-weight="normal" font-style="normal" text-anchor="middle" fill="#1a1a1a"  stroke="#1a1a1a" stroke-width="0.15">35</text>
<text x="370.00" y="550.00" font-size="12.9" font-weight="normal" font-style="normal" text-anchor="start" fill="#1a1a1a"  stroke="#1a1a1a" stroke-width="0.15">Time (days)</text>
<text transform="translate(96.3,517.8) rotate(-90)" font-size="13.2" fill="#1a1a1a" stroke="#1a1a1a" stroke-width="0.15" textLength="136.6" lengthAdjust="spacingAndGlyphs">Bacterial growth (OD<tspan font-size="9.6" dy="3">600</tspan><tspan dy="-3">)</tspan></text>
<text x="228.8" y="439.8" font-size="9.6" fill="#1a1a1a" stroke="#1a1a1a" stroke-width="0.15">P<tspan font-size="6.3" dy="2.5">i</tspan><tspan dy="-2.5"> replete</tspan></text>
<text x="453.3" y="466.1" font-size="9.6" fill="#1a1a1a" stroke="#1a1a1a" stroke-width="0.15">P<tspan font-size="6.3" dy="2.5">i</tspan><tspan dy="-2.5"> replete</tspan></text>
<text x="201.0" y="497.9" font-size="9.6" fill="#1a1a1a" stroke="#1a1a1a" stroke-width="0.15">P<tspan font-size="6.3" dy="2.5">i</tspan><tspan dy="-2.5"> free</tspan></text>
<text x="570.60" y="486.60" font-size="9.8" font-weight="normal" font-style="normal" text-anchor="start" fill="#1a2a2a"  stroke="#1a2a2a" stroke-width="0.15">GroPCho</text>
<line x1="548.30" y1="395.20" x2="571.90" y2="395.20" stroke="#000000" stroke-width="1.3" />
<circle cx="560.2" cy="395.2" r="2.9" fill="#000000" stroke="#1a1a1a" stroke-width="0.7"/>
<text x="575.0" y="397.40" font-size="9.4" fill="#111" stroke="#111" stroke-width="0.15">parent</text>
<line x1="548.30" y1="409.20" x2="571.90" y2="409.20" stroke="#ff0000" stroke-width="1.3" />
<circle cx="560.2" cy="409.2" r="2.9" fill="#ff0000" stroke="#1a1a1a" stroke-width="0.7"/>
<text x="575.0" y="411.40" font-size="9.4" fill="#111" stroke="#111" stroke-width="0.15">Δ<tspan font-style="italic">glpQ1</tspan></text>
<line x1="548.30" y1="423.30" x2="571.90" y2="423.30" stroke="#f5901e" stroke-width="1.3" />
<circle cx="560.2" cy="423.3" r="2.9" fill="#ff8000" stroke="#1a1a1a" stroke-width="0.7"/>
<text x="575.0" y="425.50" font-size="9.4" fill="#111" stroke="#111" stroke-width="0.15">Δ<tspan font-style="italic">glpQ1::glpQ1_Pimyc</tspan></text>
</svg>
</body></html>
